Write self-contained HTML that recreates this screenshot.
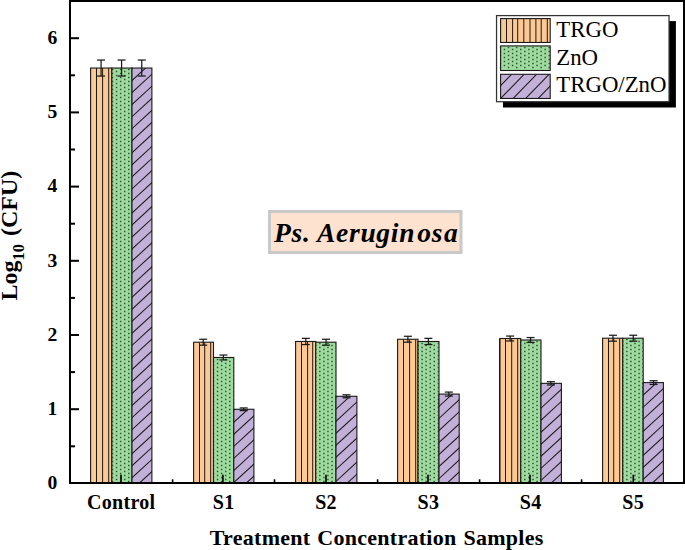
<!DOCTYPE html>
<html><head><meta charset="utf-8"><title>chart</title>
<style>
html,body{margin:0;padding:0;background:#fff;}
body{width:685px;height:550px;position:relative;overflow:hidden;font-family:"Liberation Serif",serif;color:#000;}
.t{position:absolute;white-space:nowrap;line-height:1;}
.b{font-weight:bold;}
.xt{font-size:20px;font-weight:bold;transform:translateX(-50%);top:491.5px;letter-spacing:0.3px;}
.yt{font-size:19.6px;font-weight:bold;width:20px;text-align:right;left:37.4px;}
.lg{font-size:22.8px;left:556.3px;}
</style></head><body>
<svg width="685" height="550" viewBox="0 0 685 550" style="position:absolute;left:0;top:0"><defs><clipPath id="o0"><rect x="90.60" y="68.04" width="21.20" height="414.96"/></clipPath><clipPath id="g0"><rect x="111.00" y="68.04" width="20.70" height="414.96"/></clipPath><clipPath id="p0"><rect x="132.00" y="68.04" width="19.90" height="414.96"/></clipPath><clipPath id="o1"><rect x="193.60" y="342.21" width="19.90" height="140.79"/></clipPath><clipPath id="g1"><rect x="212.70" y="357.47" width="20.80" height="125.53"/></clipPath><clipPath id="p1"><rect x="233.80" y="409.27" width="20.10" height="73.73"/></clipPath><clipPath id="o2"><rect x="295.60" y="341.47" width="20.15" height="141.53"/></clipPath><clipPath id="g2"><rect x="314.95" y="342.21" width="20.75" height="140.79"/></clipPath><clipPath id="p2"><rect x="336.00" y="396.30" width="20.90" height="86.70"/></clipPath><clipPath id="o3"><rect x="397.60" y="339.25" width="20.40" height="143.75"/></clipPath><clipPath id="g3"><rect x="417.20" y="341.47" width="21.50" height="141.53"/></clipPath><clipPath id="p3"><rect x="439.00" y="394.08" width="20.20" height="88.92"/></clipPath><clipPath id="o4"><rect x="500.00" y="338.50" width="20.75" height="144.50"/></clipPath><clipPath id="g4"><rect x="519.95" y="339.99" width="20.75" height="143.01"/></clipPath><clipPath id="p4"><rect x="541.00" y="383.34" width="20.40" height="99.66"/></clipPath><clipPath id="o5"><rect x="602.60" y="338.21" width="20.15" height="144.79"/></clipPath><clipPath id="g5"><rect x="621.95" y="338.21" width="20.95" height="144.79"/></clipPath><clipPath id="p5"><rect x="643.20" y="382.59" width="20.20" height="100.41"/></clipPath></defs><rect x="90.60" y="68.04" width="21.20" height="414.96" fill="#FCC893"/><g clip-path="url(#o0)" stroke="#1a1a1a" stroke-width="1"><line x1="96.50" y1="68.04" x2="96.50" y2="483.00"/><line x1="102.60" y1="68.04" x2="102.60" y2="483.00"/><line x1="108.70" y1="68.04" x2="108.70" y2="483.00"/></g><rect x="90.60" y="68.04" width="21.20" height="414.96" fill="none" stroke="#1a1a1a" stroke-width="1.1"/><rect x="111.80" y="68.04" width="20.20" height="414.96" fill="#9EDB9E"/><g clip-path="url(#g0)" fill="#345634"><path d="M111.75,480.75h1.5v1.5h-1.5zM119.89,480.75h1.5v1.5h-1.5zM128.03,480.75h1.5v1.5h-1.5zM115.82,478.75h1.5v1.5h-1.5zM123.96,478.75h1.5v1.5h-1.5zM132.10,478.75h1.5v1.5h-1.5zM111.75,476.75h1.5v1.5h-1.5zM119.89,476.75h1.5v1.5h-1.5zM128.03,476.75h1.5v1.5h-1.5zM115.82,474.75h1.5v1.5h-1.5zM123.96,474.75h1.5v1.5h-1.5zM132.10,474.75h1.5v1.5h-1.5zM111.75,472.75h1.5v1.5h-1.5zM119.89,472.75h1.5v1.5h-1.5zM128.03,472.75h1.5v1.5h-1.5zM115.82,470.75h1.5v1.5h-1.5zM123.96,470.75h1.5v1.5h-1.5zM132.10,470.75h1.5v1.5h-1.5zM111.75,468.75h1.5v1.5h-1.5zM119.89,468.75h1.5v1.5h-1.5zM128.03,468.75h1.5v1.5h-1.5zM115.82,466.75h1.5v1.5h-1.5zM123.96,466.75h1.5v1.5h-1.5zM132.10,466.75h1.5v1.5h-1.5zM111.75,464.75h1.5v1.5h-1.5zM119.89,464.75h1.5v1.5h-1.5zM128.03,464.75h1.5v1.5h-1.5zM115.82,462.75h1.5v1.5h-1.5zM123.96,462.75h1.5v1.5h-1.5zM132.10,462.75h1.5v1.5h-1.5zM111.75,460.75h1.5v1.5h-1.5zM119.89,460.75h1.5v1.5h-1.5zM128.03,460.75h1.5v1.5h-1.5zM115.82,458.75h1.5v1.5h-1.5zM123.96,458.75h1.5v1.5h-1.5zM132.10,458.75h1.5v1.5h-1.5zM111.75,456.75h1.5v1.5h-1.5zM119.89,456.75h1.5v1.5h-1.5zM128.03,456.75h1.5v1.5h-1.5zM115.82,454.75h1.5v1.5h-1.5zM123.96,454.75h1.5v1.5h-1.5zM132.10,454.75h1.5v1.5h-1.5zM111.75,452.75h1.5v1.5h-1.5zM119.89,452.75h1.5v1.5h-1.5zM128.03,452.75h1.5v1.5h-1.5zM115.82,450.75h1.5v1.5h-1.5zM123.96,450.75h1.5v1.5h-1.5zM132.10,450.75h1.5v1.5h-1.5zM111.75,448.75h1.5v1.5h-1.5zM119.89,448.75h1.5v1.5h-1.5zM128.03,448.75h1.5v1.5h-1.5zM115.82,446.75h1.5v1.5h-1.5zM123.96,446.75h1.5v1.5h-1.5zM132.10,446.75h1.5v1.5h-1.5zM111.75,444.75h1.5v1.5h-1.5zM119.89,444.75h1.5v1.5h-1.5zM128.03,444.75h1.5v1.5h-1.5zM115.82,442.75h1.5v1.5h-1.5zM123.96,442.75h1.5v1.5h-1.5zM132.10,442.75h1.5v1.5h-1.5zM111.75,440.75h1.5v1.5h-1.5zM119.89,440.75h1.5v1.5h-1.5zM128.03,440.75h1.5v1.5h-1.5zM115.82,438.75h1.5v1.5h-1.5zM123.96,438.75h1.5v1.5h-1.5zM132.10,438.75h1.5v1.5h-1.5zM111.75,436.75h1.5v1.5h-1.5zM119.89,436.75h1.5v1.5h-1.5zM128.03,436.75h1.5v1.5h-1.5zM115.82,434.75h1.5v1.5h-1.5zM123.96,434.75h1.5v1.5h-1.5zM132.10,434.75h1.5v1.5h-1.5zM111.75,432.75h1.5v1.5h-1.5zM119.89,432.75h1.5v1.5h-1.5zM128.03,432.75h1.5v1.5h-1.5zM115.82,430.75h1.5v1.5h-1.5zM123.96,430.75h1.5v1.5h-1.5zM132.10,430.75h1.5v1.5h-1.5zM111.75,428.75h1.5v1.5h-1.5zM119.89,428.75h1.5v1.5h-1.5zM128.03,428.75h1.5v1.5h-1.5zM115.82,426.75h1.5v1.5h-1.5zM123.96,426.75h1.5v1.5h-1.5zM132.10,426.75h1.5v1.5h-1.5zM111.75,424.75h1.5v1.5h-1.5zM119.89,424.75h1.5v1.5h-1.5zM128.03,424.75h1.5v1.5h-1.5zM115.82,422.75h1.5v1.5h-1.5zM123.96,422.75h1.5v1.5h-1.5zM132.10,422.75h1.5v1.5h-1.5zM111.75,420.75h1.5v1.5h-1.5zM119.89,420.75h1.5v1.5h-1.5zM128.03,420.75h1.5v1.5h-1.5zM115.82,418.75h1.5v1.5h-1.5zM123.96,418.75h1.5v1.5h-1.5zM132.10,418.75h1.5v1.5h-1.5zM111.75,416.75h1.5v1.5h-1.5zM119.89,416.75h1.5v1.5h-1.5zM128.03,416.75h1.5v1.5h-1.5zM115.82,414.75h1.5v1.5h-1.5zM123.96,414.75h1.5v1.5h-1.5zM132.10,414.75h1.5v1.5h-1.5zM111.75,412.75h1.5v1.5h-1.5zM119.89,412.75h1.5v1.5h-1.5zM128.03,412.75h1.5v1.5h-1.5zM115.82,410.75h1.5v1.5h-1.5zM123.96,410.75h1.5v1.5h-1.5zM132.10,410.75h1.5v1.5h-1.5zM111.75,408.75h1.5v1.5h-1.5zM119.89,408.75h1.5v1.5h-1.5zM128.03,408.75h1.5v1.5h-1.5zM115.82,406.75h1.5v1.5h-1.5zM123.96,406.75h1.5v1.5h-1.5zM132.10,406.75h1.5v1.5h-1.5zM111.75,404.75h1.5v1.5h-1.5zM119.89,404.75h1.5v1.5h-1.5zM128.03,404.75h1.5v1.5h-1.5zM115.82,402.75h1.5v1.5h-1.5zM123.96,402.75h1.5v1.5h-1.5zM132.10,402.75h1.5v1.5h-1.5zM111.75,400.75h1.5v1.5h-1.5zM119.89,400.75h1.5v1.5h-1.5zM128.03,400.75h1.5v1.5h-1.5zM115.82,398.75h1.5v1.5h-1.5zM123.96,398.75h1.5v1.5h-1.5zM132.10,398.75h1.5v1.5h-1.5zM111.75,396.75h1.5v1.5h-1.5zM119.89,396.75h1.5v1.5h-1.5zM128.03,396.75h1.5v1.5h-1.5zM115.82,394.75h1.5v1.5h-1.5zM123.96,394.75h1.5v1.5h-1.5zM132.10,394.75h1.5v1.5h-1.5zM111.75,392.75h1.5v1.5h-1.5zM119.89,392.75h1.5v1.5h-1.5zM128.03,392.75h1.5v1.5h-1.5zM115.82,390.75h1.5v1.5h-1.5zM123.96,390.75h1.5v1.5h-1.5zM132.10,390.75h1.5v1.5h-1.5zM111.75,388.75h1.5v1.5h-1.5zM119.89,388.75h1.5v1.5h-1.5zM128.03,388.75h1.5v1.5h-1.5zM115.82,386.75h1.5v1.5h-1.5zM123.96,386.75h1.5v1.5h-1.5zM132.10,386.75h1.5v1.5h-1.5zM111.75,384.75h1.5v1.5h-1.5zM119.89,384.75h1.5v1.5h-1.5zM128.03,384.75h1.5v1.5h-1.5zM115.82,382.75h1.5v1.5h-1.5zM123.96,382.75h1.5v1.5h-1.5zM132.10,382.75h1.5v1.5h-1.5zM111.75,380.75h1.5v1.5h-1.5zM119.89,380.75h1.5v1.5h-1.5zM128.03,380.75h1.5v1.5h-1.5zM115.82,378.75h1.5v1.5h-1.5zM123.96,378.75h1.5v1.5h-1.5zM132.10,378.75h1.5v1.5h-1.5zM111.75,376.75h1.5v1.5h-1.5zM119.89,376.75h1.5v1.5h-1.5zM128.03,376.75h1.5v1.5h-1.5zM115.82,374.75h1.5v1.5h-1.5zM123.96,374.75h1.5v1.5h-1.5zM132.10,374.75h1.5v1.5h-1.5zM111.75,372.75h1.5v1.5h-1.5zM119.89,372.75h1.5v1.5h-1.5zM128.03,372.75h1.5v1.5h-1.5zM115.82,370.75h1.5v1.5h-1.5zM123.96,370.75h1.5v1.5h-1.5zM132.10,370.75h1.5v1.5h-1.5zM111.75,368.75h1.5v1.5h-1.5zM119.89,368.75h1.5v1.5h-1.5zM128.03,368.75h1.5v1.5h-1.5zM115.82,366.75h1.5v1.5h-1.5zM123.96,366.75h1.5v1.5h-1.5zM132.10,366.75h1.5v1.5h-1.5zM111.75,364.75h1.5v1.5h-1.5zM119.89,364.75h1.5v1.5h-1.5zM128.03,364.75h1.5v1.5h-1.5zM115.82,362.75h1.5v1.5h-1.5zM123.96,362.75h1.5v1.5h-1.5zM132.10,362.75h1.5v1.5h-1.5zM111.75,360.75h1.5v1.5h-1.5zM119.89,360.75h1.5v1.5h-1.5zM128.03,360.75h1.5v1.5h-1.5zM115.82,358.75h1.5v1.5h-1.5zM123.96,358.75h1.5v1.5h-1.5zM132.10,358.75h1.5v1.5h-1.5zM111.75,356.75h1.5v1.5h-1.5zM119.89,356.75h1.5v1.5h-1.5zM128.03,356.75h1.5v1.5h-1.5zM115.82,354.75h1.5v1.5h-1.5zM123.96,354.75h1.5v1.5h-1.5zM132.10,354.75h1.5v1.5h-1.5zM111.75,352.75h1.5v1.5h-1.5zM119.89,352.75h1.5v1.5h-1.5zM128.03,352.75h1.5v1.5h-1.5zM115.82,350.75h1.5v1.5h-1.5zM123.96,350.75h1.5v1.5h-1.5zM132.10,350.75h1.5v1.5h-1.5zM111.75,348.75h1.5v1.5h-1.5zM119.89,348.75h1.5v1.5h-1.5zM128.03,348.75h1.5v1.5h-1.5zM115.82,346.75h1.5v1.5h-1.5zM123.96,346.75h1.5v1.5h-1.5zM132.10,346.75h1.5v1.5h-1.5zM111.75,344.75h1.5v1.5h-1.5zM119.89,344.75h1.5v1.5h-1.5zM128.03,344.75h1.5v1.5h-1.5zM115.82,342.75h1.5v1.5h-1.5zM123.96,342.75h1.5v1.5h-1.5zM132.10,342.75h1.5v1.5h-1.5zM111.75,340.75h1.5v1.5h-1.5zM119.89,340.75h1.5v1.5h-1.5zM128.03,340.75h1.5v1.5h-1.5zM115.82,338.75h1.5v1.5h-1.5zM123.96,338.75h1.5v1.5h-1.5zM132.10,338.75h1.5v1.5h-1.5zM111.75,336.75h1.5v1.5h-1.5zM119.89,336.75h1.5v1.5h-1.5zM128.03,336.75h1.5v1.5h-1.5zM115.82,334.75h1.5v1.5h-1.5zM123.96,334.75h1.5v1.5h-1.5zM132.10,334.75h1.5v1.5h-1.5zM111.75,332.75h1.5v1.5h-1.5zM119.89,332.75h1.5v1.5h-1.5zM128.03,332.75h1.5v1.5h-1.5zM115.82,330.75h1.5v1.5h-1.5zM123.96,330.75h1.5v1.5h-1.5zM132.10,330.75h1.5v1.5h-1.5zM111.75,328.75h1.5v1.5h-1.5zM119.89,328.75h1.5v1.5h-1.5zM128.03,328.75h1.5v1.5h-1.5zM115.82,326.75h1.5v1.5h-1.5zM123.96,326.75h1.5v1.5h-1.5zM132.10,326.75h1.5v1.5h-1.5zM111.75,324.75h1.5v1.5h-1.5zM119.89,324.75h1.5v1.5h-1.5zM128.03,324.75h1.5v1.5h-1.5zM115.82,322.75h1.5v1.5h-1.5zM123.96,322.75h1.5v1.5h-1.5zM132.10,322.75h1.5v1.5h-1.5zM111.75,320.75h1.5v1.5h-1.5zM119.89,320.75h1.5v1.5h-1.5zM128.03,320.75h1.5v1.5h-1.5zM115.82,318.75h1.5v1.5h-1.5zM123.96,318.75h1.5v1.5h-1.5zM132.10,318.75h1.5v1.5h-1.5zM111.75,316.75h1.5v1.5h-1.5zM119.89,316.75h1.5v1.5h-1.5zM128.03,316.75h1.5v1.5h-1.5zM115.82,314.75h1.5v1.5h-1.5zM123.96,314.75h1.5v1.5h-1.5zM132.10,314.75h1.5v1.5h-1.5zM111.75,312.75h1.5v1.5h-1.5zM119.89,312.75h1.5v1.5h-1.5zM128.03,312.75h1.5v1.5h-1.5zM115.82,310.75h1.5v1.5h-1.5zM123.96,310.75h1.5v1.5h-1.5zM132.10,310.75h1.5v1.5h-1.5zM111.75,308.75h1.5v1.5h-1.5zM119.89,308.75h1.5v1.5h-1.5zM128.03,308.75h1.5v1.5h-1.5zM115.82,306.75h1.5v1.5h-1.5zM123.96,306.75h1.5v1.5h-1.5zM132.10,306.75h1.5v1.5h-1.5zM111.75,304.75h1.5v1.5h-1.5zM119.89,304.75h1.5v1.5h-1.5zM128.03,304.75h1.5v1.5h-1.5zM115.82,302.75h1.5v1.5h-1.5zM123.96,302.75h1.5v1.5h-1.5zM132.10,302.75h1.5v1.5h-1.5zM111.75,300.75h1.5v1.5h-1.5zM119.89,300.75h1.5v1.5h-1.5zM128.03,300.75h1.5v1.5h-1.5zM115.82,298.75h1.5v1.5h-1.5zM123.96,298.75h1.5v1.5h-1.5zM132.10,298.75h1.5v1.5h-1.5zM111.75,296.75h1.5v1.5h-1.5zM119.89,296.75h1.5v1.5h-1.5zM128.03,296.75h1.5v1.5h-1.5zM115.82,294.75h1.5v1.5h-1.5zM123.96,294.75h1.5v1.5h-1.5zM132.10,294.75h1.5v1.5h-1.5zM111.75,292.75h1.5v1.5h-1.5zM119.89,292.75h1.5v1.5h-1.5zM128.03,292.75h1.5v1.5h-1.5zM115.82,290.75h1.5v1.5h-1.5zM123.96,290.75h1.5v1.5h-1.5zM132.10,290.75h1.5v1.5h-1.5zM111.75,288.75h1.5v1.5h-1.5zM119.89,288.75h1.5v1.5h-1.5zM128.03,288.75h1.5v1.5h-1.5zM115.82,286.75h1.5v1.5h-1.5zM123.96,286.75h1.5v1.5h-1.5zM132.10,286.75h1.5v1.5h-1.5zM111.75,284.75h1.5v1.5h-1.5zM119.89,284.75h1.5v1.5h-1.5zM128.03,284.75h1.5v1.5h-1.5zM115.82,282.75h1.5v1.5h-1.5zM123.96,282.75h1.5v1.5h-1.5zM132.10,282.75h1.5v1.5h-1.5zM111.75,280.75h1.5v1.5h-1.5zM119.89,280.75h1.5v1.5h-1.5zM128.03,280.75h1.5v1.5h-1.5zM115.82,278.75h1.5v1.5h-1.5zM123.96,278.75h1.5v1.5h-1.5zM132.10,278.75h1.5v1.5h-1.5zM111.75,276.75h1.5v1.5h-1.5zM119.89,276.75h1.5v1.5h-1.5zM128.03,276.75h1.5v1.5h-1.5zM115.82,274.75h1.5v1.5h-1.5zM123.96,274.75h1.5v1.5h-1.5zM132.10,274.75h1.5v1.5h-1.5zM111.75,272.75h1.5v1.5h-1.5zM119.89,272.75h1.5v1.5h-1.5zM128.03,272.75h1.5v1.5h-1.5zM115.82,270.75h1.5v1.5h-1.5zM123.96,270.75h1.5v1.5h-1.5zM132.10,270.75h1.5v1.5h-1.5zM111.75,268.75h1.5v1.5h-1.5zM119.89,268.75h1.5v1.5h-1.5zM128.03,268.75h1.5v1.5h-1.5zM115.82,266.75h1.5v1.5h-1.5zM123.96,266.75h1.5v1.5h-1.5zM132.10,266.75h1.5v1.5h-1.5zM111.75,264.75h1.5v1.5h-1.5zM119.89,264.75h1.5v1.5h-1.5zM128.03,264.75h1.5v1.5h-1.5zM115.82,262.75h1.5v1.5h-1.5zM123.96,262.75h1.5v1.5h-1.5zM132.10,262.75h1.5v1.5h-1.5zM111.75,260.75h1.5v1.5h-1.5zM119.89,260.75h1.5v1.5h-1.5zM128.03,260.75h1.5v1.5h-1.5zM115.82,258.75h1.5v1.5h-1.5zM123.96,258.75h1.5v1.5h-1.5zM132.10,258.75h1.5v1.5h-1.5zM111.75,256.75h1.5v1.5h-1.5zM119.89,256.75h1.5v1.5h-1.5zM128.03,256.75h1.5v1.5h-1.5zM115.82,254.75h1.5v1.5h-1.5zM123.96,254.75h1.5v1.5h-1.5zM132.10,254.75h1.5v1.5h-1.5zM111.75,252.75h1.5v1.5h-1.5zM119.89,252.75h1.5v1.5h-1.5zM128.03,252.75h1.5v1.5h-1.5zM115.82,250.75h1.5v1.5h-1.5zM123.96,250.75h1.5v1.5h-1.5zM132.10,250.75h1.5v1.5h-1.5zM111.75,248.75h1.5v1.5h-1.5zM119.89,248.75h1.5v1.5h-1.5zM128.03,248.75h1.5v1.5h-1.5zM115.82,246.75h1.5v1.5h-1.5zM123.96,246.75h1.5v1.5h-1.5zM132.10,246.75h1.5v1.5h-1.5zM111.75,244.75h1.5v1.5h-1.5zM119.89,244.75h1.5v1.5h-1.5zM128.03,244.75h1.5v1.5h-1.5zM115.82,242.75h1.5v1.5h-1.5zM123.96,242.75h1.5v1.5h-1.5zM132.10,242.75h1.5v1.5h-1.5zM111.75,240.75h1.5v1.5h-1.5zM119.89,240.75h1.5v1.5h-1.5zM128.03,240.75h1.5v1.5h-1.5zM115.82,238.75h1.5v1.5h-1.5zM123.96,238.75h1.5v1.5h-1.5zM132.10,238.75h1.5v1.5h-1.5zM111.75,236.75h1.5v1.5h-1.5zM119.89,236.75h1.5v1.5h-1.5zM128.03,236.75h1.5v1.5h-1.5zM115.82,234.75h1.5v1.5h-1.5zM123.96,234.75h1.5v1.5h-1.5zM132.10,234.75h1.5v1.5h-1.5zM111.75,232.75h1.5v1.5h-1.5zM119.89,232.75h1.5v1.5h-1.5zM128.03,232.75h1.5v1.5h-1.5zM115.82,230.75h1.5v1.5h-1.5zM123.96,230.75h1.5v1.5h-1.5zM132.10,230.75h1.5v1.5h-1.5zM111.75,228.75h1.5v1.5h-1.5zM119.89,228.75h1.5v1.5h-1.5zM128.03,228.75h1.5v1.5h-1.5zM115.82,226.75h1.5v1.5h-1.5zM123.96,226.75h1.5v1.5h-1.5zM132.10,226.75h1.5v1.5h-1.5zM111.75,224.75h1.5v1.5h-1.5zM119.89,224.75h1.5v1.5h-1.5zM128.03,224.75h1.5v1.5h-1.5zM115.82,222.75h1.5v1.5h-1.5zM123.96,222.75h1.5v1.5h-1.5zM132.10,222.75h1.5v1.5h-1.5zM111.75,220.75h1.5v1.5h-1.5zM119.89,220.75h1.5v1.5h-1.5zM128.03,220.75h1.5v1.5h-1.5zM115.82,218.75h1.5v1.5h-1.5zM123.96,218.75h1.5v1.5h-1.5zM132.10,218.75h1.5v1.5h-1.5zM111.75,216.75h1.5v1.5h-1.5zM119.89,216.75h1.5v1.5h-1.5zM128.03,216.75h1.5v1.5h-1.5zM115.82,214.75h1.5v1.5h-1.5zM123.96,214.75h1.5v1.5h-1.5zM132.10,214.75h1.5v1.5h-1.5zM111.75,212.75h1.5v1.5h-1.5zM119.89,212.75h1.5v1.5h-1.5zM128.03,212.75h1.5v1.5h-1.5zM115.82,210.75h1.5v1.5h-1.5zM123.96,210.75h1.5v1.5h-1.5zM132.10,210.75h1.5v1.5h-1.5zM111.75,208.75h1.5v1.5h-1.5zM119.89,208.75h1.5v1.5h-1.5zM128.03,208.75h1.5v1.5h-1.5zM115.82,206.75h1.5v1.5h-1.5zM123.96,206.75h1.5v1.5h-1.5zM132.10,206.75h1.5v1.5h-1.5zM111.75,204.75h1.5v1.5h-1.5zM119.89,204.75h1.5v1.5h-1.5zM128.03,204.75h1.5v1.5h-1.5zM115.82,202.75h1.5v1.5h-1.5zM123.96,202.75h1.5v1.5h-1.5zM132.10,202.75h1.5v1.5h-1.5zM111.75,200.75h1.5v1.5h-1.5zM119.89,200.75h1.5v1.5h-1.5zM128.03,200.75h1.5v1.5h-1.5zM115.82,198.75h1.5v1.5h-1.5zM123.96,198.75h1.5v1.5h-1.5zM132.10,198.75h1.5v1.5h-1.5zM111.75,196.75h1.5v1.5h-1.5zM119.89,196.75h1.5v1.5h-1.5zM128.03,196.75h1.5v1.5h-1.5zM115.82,194.75h1.5v1.5h-1.5zM123.96,194.75h1.5v1.5h-1.5zM132.10,194.75h1.5v1.5h-1.5zM111.75,192.75h1.5v1.5h-1.5zM119.89,192.75h1.5v1.5h-1.5zM128.03,192.75h1.5v1.5h-1.5zM115.82,190.75h1.5v1.5h-1.5zM123.96,190.75h1.5v1.5h-1.5zM132.10,190.75h1.5v1.5h-1.5zM111.75,188.75h1.5v1.5h-1.5zM119.89,188.75h1.5v1.5h-1.5zM128.03,188.75h1.5v1.5h-1.5zM115.82,186.75h1.5v1.5h-1.5zM123.96,186.75h1.5v1.5h-1.5zM132.10,186.75h1.5v1.5h-1.5zM111.75,184.75h1.5v1.5h-1.5zM119.89,184.75h1.5v1.5h-1.5zM128.03,184.75h1.5v1.5h-1.5zM115.82,182.75h1.5v1.5h-1.5zM123.96,182.75h1.5v1.5h-1.5zM132.10,182.75h1.5v1.5h-1.5zM111.75,180.75h1.5v1.5h-1.5zM119.89,180.75h1.5v1.5h-1.5zM128.03,180.75h1.5v1.5h-1.5zM115.82,178.75h1.5v1.5h-1.5zM123.96,178.75h1.5v1.5h-1.5zM132.10,178.75h1.5v1.5h-1.5zM111.75,176.75h1.5v1.5h-1.5zM119.89,176.75h1.5v1.5h-1.5zM128.03,176.75h1.5v1.5h-1.5zM115.82,174.75h1.5v1.5h-1.5zM123.96,174.75h1.5v1.5h-1.5zM132.10,174.75h1.5v1.5h-1.5zM111.75,172.75h1.5v1.5h-1.5zM119.89,172.75h1.5v1.5h-1.5zM128.03,172.75h1.5v1.5h-1.5zM115.82,170.75h1.5v1.5h-1.5zM123.96,170.75h1.5v1.5h-1.5zM132.10,170.75h1.5v1.5h-1.5zM111.75,168.75h1.5v1.5h-1.5zM119.89,168.75h1.5v1.5h-1.5zM128.03,168.75h1.5v1.5h-1.5zM115.82,166.75h1.5v1.5h-1.5zM123.96,166.75h1.5v1.5h-1.5zM132.10,166.75h1.5v1.5h-1.5zM111.75,164.75h1.5v1.5h-1.5zM119.89,164.75h1.5v1.5h-1.5zM128.03,164.75h1.5v1.5h-1.5zM115.82,162.75h1.5v1.5h-1.5zM123.96,162.75h1.5v1.5h-1.5zM132.10,162.75h1.5v1.5h-1.5zM111.75,160.75h1.5v1.5h-1.5zM119.89,160.75h1.5v1.5h-1.5zM128.03,160.75h1.5v1.5h-1.5zM115.82,158.75h1.5v1.5h-1.5zM123.96,158.75h1.5v1.5h-1.5zM132.10,158.75h1.5v1.5h-1.5zM111.75,156.75h1.5v1.5h-1.5zM119.89,156.75h1.5v1.5h-1.5zM128.03,156.75h1.5v1.5h-1.5zM115.82,154.75h1.5v1.5h-1.5zM123.96,154.75h1.5v1.5h-1.5zM132.10,154.75h1.5v1.5h-1.5zM111.75,152.75h1.5v1.5h-1.5zM119.89,152.75h1.5v1.5h-1.5zM128.03,152.75h1.5v1.5h-1.5zM115.82,150.75h1.5v1.5h-1.5zM123.96,150.75h1.5v1.5h-1.5zM132.10,150.75h1.5v1.5h-1.5zM111.75,148.75h1.5v1.5h-1.5zM119.89,148.75h1.5v1.5h-1.5zM128.03,148.75h1.5v1.5h-1.5zM115.82,146.75h1.5v1.5h-1.5zM123.96,146.75h1.5v1.5h-1.5zM132.10,146.75h1.5v1.5h-1.5zM111.75,144.75h1.5v1.5h-1.5zM119.89,144.75h1.5v1.5h-1.5zM128.03,144.75h1.5v1.5h-1.5zM115.82,142.75h1.5v1.5h-1.5zM123.96,142.75h1.5v1.5h-1.5zM132.10,142.75h1.5v1.5h-1.5zM111.75,140.75h1.5v1.5h-1.5zM119.89,140.75h1.5v1.5h-1.5zM128.03,140.75h1.5v1.5h-1.5zM115.82,138.75h1.5v1.5h-1.5zM123.96,138.75h1.5v1.5h-1.5zM132.10,138.75h1.5v1.5h-1.5zM111.75,136.75h1.5v1.5h-1.5zM119.89,136.75h1.5v1.5h-1.5zM128.03,136.75h1.5v1.5h-1.5zM115.82,134.75h1.5v1.5h-1.5zM123.96,134.75h1.5v1.5h-1.5zM132.10,134.75h1.5v1.5h-1.5zM111.75,132.75h1.5v1.5h-1.5zM119.89,132.75h1.5v1.5h-1.5zM128.03,132.75h1.5v1.5h-1.5zM115.82,130.75h1.5v1.5h-1.5zM123.96,130.75h1.5v1.5h-1.5zM132.10,130.75h1.5v1.5h-1.5zM111.75,128.75h1.5v1.5h-1.5zM119.89,128.75h1.5v1.5h-1.5zM128.03,128.75h1.5v1.5h-1.5zM115.82,126.75h1.5v1.5h-1.5zM123.96,126.75h1.5v1.5h-1.5zM132.10,126.75h1.5v1.5h-1.5zM111.75,124.75h1.5v1.5h-1.5zM119.89,124.75h1.5v1.5h-1.5zM128.03,124.75h1.5v1.5h-1.5zM115.82,122.75h1.5v1.5h-1.5zM123.96,122.75h1.5v1.5h-1.5zM132.10,122.75h1.5v1.5h-1.5zM111.75,120.75h1.5v1.5h-1.5zM119.89,120.75h1.5v1.5h-1.5zM128.03,120.75h1.5v1.5h-1.5zM115.82,118.75h1.5v1.5h-1.5zM123.96,118.75h1.5v1.5h-1.5zM132.10,118.75h1.5v1.5h-1.5zM111.75,116.75h1.5v1.5h-1.5zM119.89,116.75h1.5v1.5h-1.5zM128.03,116.75h1.5v1.5h-1.5zM115.82,114.75h1.5v1.5h-1.5zM123.96,114.75h1.5v1.5h-1.5zM132.10,114.75h1.5v1.5h-1.5zM111.75,112.75h1.5v1.5h-1.5zM119.89,112.75h1.5v1.5h-1.5zM128.03,112.75h1.5v1.5h-1.5zM115.82,110.75h1.5v1.5h-1.5zM123.96,110.75h1.5v1.5h-1.5zM132.10,110.75h1.5v1.5h-1.5zM111.75,108.75h1.5v1.5h-1.5zM119.89,108.75h1.5v1.5h-1.5zM128.03,108.75h1.5v1.5h-1.5zM115.82,106.75h1.5v1.5h-1.5zM123.96,106.75h1.5v1.5h-1.5zM132.10,106.75h1.5v1.5h-1.5zM111.75,104.75h1.5v1.5h-1.5zM119.89,104.75h1.5v1.5h-1.5zM128.03,104.75h1.5v1.5h-1.5zM115.82,102.75h1.5v1.5h-1.5zM123.96,102.75h1.5v1.5h-1.5zM132.10,102.75h1.5v1.5h-1.5zM111.75,100.75h1.5v1.5h-1.5zM119.89,100.75h1.5v1.5h-1.5zM128.03,100.75h1.5v1.5h-1.5zM115.82,98.75h1.5v1.5h-1.5zM123.96,98.75h1.5v1.5h-1.5zM132.10,98.75h1.5v1.5h-1.5zM111.75,96.75h1.5v1.5h-1.5zM119.89,96.75h1.5v1.5h-1.5zM128.03,96.75h1.5v1.5h-1.5zM115.82,94.75h1.5v1.5h-1.5zM123.96,94.75h1.5v1.5h-1.5zM132.10,94.75h1.5v1.5h-1.5zM111.75,92.75h1.5v1.5h-1.5zM119.89,92.75h1.5v1.5h-1.5zM128.03,92.75h1.5v1.5h-1.5zM115.82,90.75h1.5v1.5h-1.5zM123.96,90.75h1.5v1.5h-1.5zM132.10,90.75h1.5v1.5h-1.5zM111.75,88.75h1.5v1.5h-1.5zM119.89,88.75h1.5v1.5h-1.5zM128.03,88.75h1.5v1.5h-1.5zM115.82,86.75h1.5v1.5h-1.5zM123.96,86.75h1.5v1.5h-1.5zM132.10,86.75h1.5v1.5h-1.5zM111.75,84.75h1.5v1.5h-1.5zM119.89,84.75h1.5v1.5h-1.5zM128.03,84.75h1.5v1.5h-1.5zM115.82,82.75h1.5v1.5h-1.5zM123.96,82.75h1.5v1.5h-1.5zM132.10,82.75h1.5v1.5h-1.5zM111.75,80.75h1.5v1.5h-1.5zM119.89,80.75h1.5v1.5h-1.5zM128.03,80.75h1.5v1.5h-1.5zM115.82,78.75h1.5v1.5h-1.5zM123.96,78.75h1.5v1.5h-1.5zM132.10,78.75h1.5v1.5h-1.5zM111.75,76.75h1.5v1.5h-1.5zM119.89,76.75h1.5v1.5h-1.5zM128.03,76.75h1.5v1.5h-1.5zM115.82,74.75h1.5v1.5h-1.5zM123.96,74.75h1.5v1.5h-1.5zM132.10,74.75h1.5v1.5h-1.5zM111.75,72.75h1.5v1.5h-1.5zM119.89,72.75h1.5v1.5h-1.5zM128.03,72.75h1.5v1.5h-1.5zM115.82,70.75h1.5v1.5h-1.5zM123.96,70.75h1.5v1.5h-1.5zM132.10,70.75h1.5v1.5h-1.5zM111.75,68.75h1.5v1.5h-1.5zM119.89,68.75h1.5v1.5h-1.5zM128.03,68.75h1.5v1.5h-1.5zM115.82,66.75h1.5v1.5h-1.5zM123.96,66.75h1.5v1.5h-1.5zM132.10,66.75h1.5v1.5h-1.5z"/></g><rect x="111.80" y="68.04" width="20.20" height="414.96" fill="none" stroke="#1a1a1a" stroke-width="1.1"/><rect x="132.00" y="68.04" width="19.90" height="414.96" fill="#C2B0D9"/><g clip-path="url(#p0)" stroke="#1a1a1a" stroke-width="1.05"><line x1="127.00" y1="518.52" x2="156.90" y2="491.01"/><line x1="127.00" y1="506.48" x2="156.90" y2="478.97"/><line x1="127.00" y1="494.44" x2="156.90" y2="466.93"/><line x1="127.00" y1="482.40" x2="156.90" y2="454.89"/><line x1="127.00" y1="470.36" x2="156.90" y2="442.85"/><line x1="127.00" y1="458.32" x2="156.90" y2="430.81"/><line x1="127.00" y1="446.28" x2="156.90" y2="418.77"/><line x1="127.00" y1="434.24" x2="156.90" y2="406.73"/><line x1="127.00" y1="422.20" x2="156.90" y2="394.69"/><line x1="127.00" y1="410.16" x2="156.90" y2="382.65"/><line x1="127.00" y1="398.12" x2="156.90" y2="370.61"/><line x1="127.00" y1="386.08" x2="156.90" y2="358.57"/><line x1="127.00" y1="374.04" x2="156.90" y2="346.53"/><line x1="127.00" y1="362.00" x2="156.90" y2="334.49"/><line x1="127.00" y1="349.96" x2="156.90" y2="322.45"/><line x1="127.00" y1="337.92" x2="156.90" y2="310.41"/><line x1="127.00" y1="325.88" x2="156.90" y2="298.37"/><line x1="127.00" y1="313.84" x2="156.90" y2="286.33"/><line x1="127.00" y1="301.80" x2="156.90" y2="274.29"/><line x1="127.00" y1="289.76" x2="156.90" y2="262.25"/><line x1="127.00" y1="277.72" x2="156.90" y2="250.21"/><line x1="127.00" y1="265.68" x2="156.90" y2="238.17"/><line x1="127.00" y1="253.64" x2="156.90" y2="226.13"/><line x1="127.00" y1="241.60" x2="156.90" y2="214.09"/><line x1="127.00" y1="229.56" x2="156.90" y2="202.05"/><line x1="127.00" y1="217.52" x2="156.90" y2="190.01"/><line x1="127.00" y1="205.48" x2="156.90" y2="177.97"/><line x1="127.00" y1="193.44" x2="156.90" y2="165.93"/><line x1="127.00" y1="181.40" x2="156.90" y2="153.89"/><line x1="127.00" y1="169.36" x2="156.90" y2="141.85"/><line x1="127.00" y1="157.32" x2="156.90" y2="129.81"/><line x1="127.00" y1="145.28" x2="156.90" y2="117.77"/><line x1="127.00" y1="133.24" x2="156.90" y2="105.73"/><line x1="127.00" y1="121.20" x2="156.90" y2="93.69"/><line x1="127.00" y1="109.16" x2="156.90" y2="81.65"/><line x1="127.00" y1="97.12" x2="156.90" y2="69.61"/><line x1="127.00" y1="85.08" x2="156.90" y2="57.57"/><line x1="127.00" y1="73.04" x2="156.90" y2="45.53"/></g><rect x="132.00" y="68.04" width="19.90" height="414.96" fill="none" stroke="#1a1a1a" stroke-width="1.1"/><g stroke="#1a1a1a" stroke-width="1.25" fill="none"><line x1="101.07" y1="60.04" x2="101.07" y2="76.04"/><line x1="97.07" y1="60.04" x2="105.07" y2="60.04"/><line x1="97.07" y1="76.04" x2="105.07" y2="76.04"/></g><g stroke="#1a1a1a" stroke-width="1.25" fill="none"><line x1="121.58" y1="60.04" x2="121.58" y2="76.04"/><line x1="117.58" y1="60.04" x2="125.58" y2="60.04"/><line x1="117.58" y1="76.04" x2="125.58" y2="76.04"/></g><g stroke="#1a1a1a" stroke-width="1.25" fill="none"><line x1="141.75" y1="60.04" x2="141.75" y2="76.04"/><line x1="137.75" y1="60.04" x2="145.75" y2="60.04"/><line x1="137.75" y1="76.04" x2="145.75" y2="76.04"/></g><rect x="193.60" y="342.21" width="19.90" height="140.79" fill="#FCC893"/><g clip-path="url(#o1)" stroke="#1a1a1a" stroke-width="1"><line x1="199.50" y1="342.21" x2="199.50" y2="483.00"/><line x1="204.70" y1="342.21" x2="204.70" y2="483.00"/><line x1="210.70" y1="342.21" x2="210.70" y2="483.00"/></g><rect x="193.60" y="342.21" width="19.90" height="140.79" fill="none" stroke="#1a1a1a" stroke-width="1.1"/><rect x="213.50" y="357.47" width="20.30" height="125.53" fill="#9EDB9E"/><g clip-path="url(#g1)" fill="#345634"><path d="M212.75,480.75h1.5v1.5h-1.5zM220.89,480.75h1.5v1.5h-1.5zM229.03,480.75h1.5v1.5h-1.5zM216.82,478.75h1.5v1.5h-1.5zM224.96,478.75h1.5v1.5h-1.5zM233.10,478.75h1.5v1.5h-1.5zM212.75,476.75h1.5v1.5h-1.5zM220.89,476.75h1.5v1.5h-1.5zM229.03,476.75h1.5v1.5h-1.5zM216.82,474.75h1.5v1.5h-1.5zM224.96,474.75h1.5v1.5h-1.5zM233.10,474.75h1.5v1.5h-1.5zM212.75,472.75h1.5v1.5h-1.5zM220.89,472.75h1.5v1.5h-1.5zM229.03,472.75h1.5v1.5h-1.5zM216.82,470.75h1.5v1.5h-1.5zM224.96,470.75h1.5v1.5h-1.5zM233.10,470.75h1.5v1.5h-1.5zM212.75,468.75h1.5v1.5h-1.5zM220.89,468.75h1.5v1.5h-1.5zM229.03,468.75h1.5v1.5h-1.5zM216.82,466.75h1.5v1.5h-1.5zM224.96,466.75h1.5v1.5h-1.5zM233.10,466.75h1.5v1.5h-1.5zM212.75,464.75h1.5v1.5h-1.5zM220.89,464.75h1.5v1.5h-1.5zM229.03,464.75h1.5v1.5h-1.5zM216.82,462.75h1.5v1.5h-1.5zM224.96,462.75h1.5v1.5h-1.5zM233.10,462.75h1.5v1.5h-1.5zM212.75,460.75h1.5v1.5h-1.5zM220.89,460.75h1.5v1.5h-1.5zM229.03,460.75h1.5v1.5h-1.5zM216.82,458.75h1.5v1.5h-1.5zM224.96,458.75h1.5v1.5h-1.5zM233.10,458.75h1.5v1.5h-1.5zM212.75,456.75h1.5v1.5h-1.5zM220.89,456.75h1.5v1.5h-1.5zM229.03,456.75h1.5v1.5h-1.5zM216.82,454.75h1.5v1.5h-1.5zM224.96,454.75h1.5v1.5h-1.5zM233.10,454.75h1.5v1.5h-1.5zM212.75,452.75h1.5v1.5h-1.5zM220.89,452.75h1.5v1.5h-1.5zM229.03,452.75h1.5v1.5h-1.5zM216.82,450.75h1.5v1.5h-1.5zM224.96,450.75h1.5v1.5h-1.5zM233.10,450.75h1.5v1.5h-1.5zM212.75,448.75h1.5v1.5h-1.5zM220.89,448.75h1.5v1.5h-1.5zM229.03,448.75h1.5v1.5h-1.5zM216.82,446.75h1.5v1.5h-1.5zM224.96,446.75h1.5v1.5h-1.5zM233.10,446.75h1.5v1.5h-1.5zM212.75,444.75h1.5v1.5h-1.5zM220.89,444.75h1.5v1.5h-1.5zM229.03,444.75h1.5v1.5h-1.5zM216.82,442.75h1.5v1.5h-1.5zM224.96,442.75h1.5v1.5h-1.5zM233.10,442.75h1.5v1.5h-1.5zM212.75,440.75h1.5v1.5h-1.5zM220.89,440.75h1.5v1.5h-1.5zM229.03,440.75h1.5v1.5h-1.5zM216.82,438.75h1.5v1.5h-1.5zM224.96,438.75h1.5v1.5h-1.5zM233.10,438.75h1.5v1.5h-1.5zM212.75,436.75h1.5v1.5h-1.5zM220.89,436.75h1.5v1.5h-1.5zM229.03,436.75h1.5v1.5h-1.5zM216.82,434.75h1.5v1.5h-1.5zM224.96,434.75h1.5v1.5h-1.5zM233.10,434.75h1.5v1.5h-1.5zM212.75,432.75h1.5v1.5h-1.5zM220.89,432.75h1.5v1.5h-1.5zM229.03,432.75h1.5v1.5h-1.5zM216.82,430.75h1.5v1.5h-1.5zM224.96,430.75h1.5v1.5h-1.5zM233.10,430.75h1.5v1.5h-1.5zM212.75,428.75h1.5v1.5h-1.5zM220.89,428.75h1.5v1.5h-1.5zM229.03,428.75h1.5v1.5h-1.5zM216.82,426.75h1.5v1.5h-1.5zM224.96,426.75h1.5v1.5h-1.5zM233.10,426.75h1.5v1.5h-1.5zM212.75,424.75h1.5v1.5h-1.5zM220.89,424.75h1.5v1.5h-1.5zM229.03,424.75h1.5v1.5h-1.5zM216.82,422.75h1.5v1.5h-1.5zM224.96,422.75h1.5v1.5h-1.5zM233.10,422.75h1.5v1.5h-1.5zM212.75,420.75h1.5v1.5h-1.5zM220.89,420.75h1.5v1.5h-1.5zM229.03,420.75h1.5v1.5h-1.5zM216.82,418.75h1.5v1.5h-1.5zM224.96,418.75h1.5v1.5h-1.5zM233.10,418.75h1.5v1.5h-1.5zM212.75,416.75h1.5v1.5h-1.5zM220.89,416.75h1.5v1.5h-1.5zM229.03,416.75h1.5v1.5h-1.5zM216.82,414.75h1.5v1.5h-1.5zM224.96,414.75h1.5v1.5h-1.5zM233.10,414.75h1.5v1.5h-1.5zM212.75,412.75h1.5v1.5h-1.5zM220.89,412.75h1.5v1.5h-1.5zM229.03,412.75h1.5v1.5h-1.5zM216.82,410.75h1.5v1.5h-1.5zM224.96,410.75h1.5v1.5h-1.5zM233.10,410.75h1.5v1.5h-1.5zM212.75,408.75h1.5v1.5h-1.5zM220.89,408.75h1.5v1.5h-1.5zM229.03,408.75h1.5v1.5h-1.5zM216.82,406.75h1.5v1.5h-1.5zM224.96,406.75h1.5v1.5h-1.5zM233.10,406.75h1.5v1.5h-1.5zM212.75,404.75h1.5v1.5h-1.5zM220.89,404.75h1.5v1.5h-1.5zM229.03,404.75h1.5v1.5h-1.5zM216.82,402.75h1.5v1.5h-1.5zM224.96,402.75h1.5v1.5h-1.5zM233.10,402.75h1.5v1.5h-1.5zM212.75,400.75h1.5v1.5h-1.5zM220.89,400.75h1.5v1.5h-1.5zM229.03,400.75h1.5v1.5h-1.5zM216.82,398.75h1.5v1.5h-1.5zM224.96,398.75h1.5v1.5h-1.5zM233.10,398.75h1.5v1.5h-1.5zM212.75,396.75h1.5v1.5h-1.5zM220.89,396.75h1.5v1.5h-1.5zM229.03,396.75h1.5v1.5h-1.5zM216.82,394.75h1.5v1.5h-1.5zM224.96,394.75h1.5v1.5h-1.5zM233.10,394.75h1.5v1.5h-1.5zM212.75,392.75h1.5v1.5h-1.5zM220.89,392.75h1.5v1.5h-1.5zM229.03,392.75h1.5v1.5h-1.5zM216.82,390.75h1.5v1.5h-1.5zM224.96,390.75h1.5v1.5h-1.5zM233.10,390.75h1.5v1.5h-1.5zM212.75,388.75h1.5v1.5h-1.5zM220.89,388.75h1.5v1.5h-1.5zM229.03,388.75h1.5v1.5h-1.5zM216.82,386.75h1.5v1.5h-1.5zM224.96,386.75h1.5v1.5h-1.5zM233.10,386.75h1.5v1.5h-1.5zM212.75,384.75h1.5v1.5h-1.5zM220.89,384.75h1.5v1.5h-1.5zM229.03,384.75h1.5v1.5h-1.5zM216.82,382.75h1.5v1.5h-1.5zM224.96,382.75h1.5v1.5h-1.5zM233.10,382.75h1.5v1.5h-1.5zM212.75,380.75h1.5v1.5h-1.5zM220.89,380.75h1.5v1.5h-1.5zM229.03,380.75h1.5v1.5h-1.5zM216.82,378.75h1.5v1.5h-1.5zM224.96,378.75h1.5v1.5h-1.5zM233.10,378.75h1.5v1.5h-1.5zM212.75,376.75h1.5v1.5h-1.5zM220.89,376.75h1.5v1.5h-1.5zM229.03,376.75h1.5v1.5h-1.5zM216.82,374.75h1.5v1.5h-1.5zM224.96,374.75h1.5v1.5h-1.5zM233.10,374.75h1.5v1.5h-1.5zM212.75,372.75h1.5v1.5h-1.5zM220.89,372.75h1.5v1.5h-1.5zM229.03,372.75h1.5v1.5h-1.5zM216.82,370.75h1.5v1.5h-1.5zM224.96,370.75h1.5v1.5h-1.5zM233.10,370.75h1.5v1.5h-1.5zM212.75,368.75h1.5v1.5h-1.5zM220.89,368.75h1.5v1.5h-1.5zM229.03,368.75h1.5v1.5h-1.5zM216.82,366.75h1.5v1.5h-1.5zM224.96,366.75h1.5v1.5h-1.5zM233.10,366.75h1.5v1.5h-1.5zM212.75,364.75h1.5v1.5h-1.5zM220.89,364.75h1.5v1.5h-1.5zM229.03,364.75h1.5v1.5h-1.5zM216.82,362.75h1.5v1.5h-1.5zM224.96,362.75h1.5v1.5h-1.5zM233.10,362.75h1.5v1.5h-1.5zM212.75,360.75h1.5v1.5h-1.5zM220.89,360.75h1.5v1.5h-1.5zM229.03,360.75h1.5v1.5h-1.5zM216.82,358.75h1.5v1.5h-1.5zM224.96,358.75h1.5v1.5h-1.5zM233.10,358.75h1.5v1.5h-1.5zM212.75,356.75h1.5v1.5h-1.5zM220.89,356.75h1.5v1.5h-1.5zM229.03,356.75h1.5v1.5h-1.5z"/></g><rect x="213.50" y="357.47" width="20.30" height="125.53" fill="none" stroke="#1a1a1a" stroke-width="1.1"/><rect x="233.80" y="409.27" width="20.10" height="73.73" fill="#C2B0D9"/><g clip-path="url(#p1)" stroke="#1a1a1a" stroke-width="1.05"><line x1="228.80" y1="523.22" x2="258.90" y2="495.53"/><line x1="228.80" y1="511.18" x2="258.90" y2="483.49"/><line x1="228.80" y1="499.14" x2="258.90" y2="471.45"/><line x1="228.80" y1="487.10" x2="258.90" y2="459.41"/><line x1="228.80" y1="475.06" x2="258.90" y2="447.37"/><line x1="228.80" y1="463.02" x2="258.90" y2="435.33"/><line x1="228.80" y1="450.98" x2="258.90" y2="423.29"/><line x1="228.80" y1="438.94" x2="258.90" y2="411.25"/><line x1="228.80" y1="426.90" x2="258.90" y2="399.21"/><line x1="228.80" y1="414.86" x2="258.90" y2="387.17"/></g><rect x="233.80" y="409.27" width="20.10" height="73.73" fill="none" stroke="#1a1a1a" stroke-width="1.1"/><g stroke="#1a1a1a" stroke-width="1.25" fill="none"><line x1="203.20" y1="339.25" x2="203.20" y2="345.17"/><line x1="199.20" y1="339.25" x2="207.20" y2="339.25"/><line x1="199.20" y1="345.17" x2="207.20" y2="345.17"/></g><g stroke="#1a1a1a" stroke-width="1.25" fill="none"><line x1="223.40" y1="355.03" x2="223.40" y2="359.92"/><line x1="219.40" y1="355.03" x2="227.40" y2="355.03"/><line x1="219.40" y1="359.92" x2="227.40" y2="359.92"/></g><g stroke="#1a1a1a" stroke-width="1.25" fill="none"><line x1="243.65" y1="407.94" x2="243.65" y2="410.60"/><line x1="239.65" y1="407.94" x2="247.65" y2="407.94"/><line x1="239.65" y1="410.60" x2="247.65" y2="410.60"/></g><rect x="295.60" y="341.47" width="20.15" height="141.53" fill="#FCC893"/><g clip-path="url(#o2)" stroke="#1a1a1a" stroke-width="1"><line x1="301.50" y1="341.47" x2="301.50" y2="483.00"/><line x1="307.60" y1="341.47" x2="307.60" y2="483.00"/><line x1="312.70" y1="341.47" x2="312.70" y2="483.00"/></g><rect x="295.60" y="341.47" width="20.15" height="141.53" fill="none" stroke="#1a1a1a" stroke-width="1.1"/><rect x="315.75" y="342.21" width="20.25" height="140.79" fill="#9EDB9E"/><g clip-path="url(#g2)" fill="#345634"><path d="M315.00,480.75h1.5v1.5h-1.5zM323.14,480.75h1.5v1.5h-1.5zM331.28,480.75h1.5v1.5h-1.5zM319.07,478.75h1.5v1.5h-1.5zM327.21,478.75h1.5v1.5h-1.5zM335.35,478.75h1.5v1.5h-1.5zM315.00,476.75h1.5v1.5h-1.5zM323.14,476.75h1.5v1.5h-1.5zM331.28,476.75h1.5v1.5h-1.5zM319.07,474.75h1.5v1.5h-1.5zM327.21,474.75h1.5v1.5h-1.5zM335.35,474.75h1.5v1.5h-1.5zM315.00,472.75h1.5v1.5h-1.5zM323.14,472.75h1.5v1.5h-1.5zM331.28,472.75h1.5v1.5h-1.5zM319.07,470.75h1.5v1.5h-1.5zM327.21,470.75h1.5v1.5h-1.5zM335.35,470.75h1.5v1.5h-1.5zM315.00,468.75h1.5v1.5h-1.5zM323.14,468.75h1.5v1.5h-1.5zM331.28,468.75h1.5v1.5h-1.5zM319.07,466.75h1.5v1.5h-1.5zM327.21,466.75h1.5v1.5h-1.5zM335.35,466.75h1.5v1.5h-1.5zM315.00,464.75h1.5v1.5h-1.5zM323.14,464.75h1.5v1.5h-1.5zM331.28,464.75h1.5v1.5h-1.5zM319.07,462.75h1.5v1.5h-1.5zM327.21,462.75h1.5v1.5h-1.5zM335.35,462.75h1.5v1.5h-1.5zM315.00,460.75h1.5v1.5h-1.5zM323.14,460.75h1.5v1.5h-1.5zM331.28,460.75h1.5v1.5h-1.5zM319.07,458.75h1.5v1.5h-1.5zM327.21,458.75h1.5v1.5h-1.5zM335.35,458.75h1.5v1.5h-1.5zM315.00,456.75h1.5v1.5h-1.5zM323.14,456.75h1.5v1.5h-1.5zM331.28,456.75h1.5v1.5h-1.5zM319.07,454.75h1.5v1.5h-1.5zM327.21,454.75h1.5v1.5h-1.5zM335.35,454.75h1.5v1.5h-1.5zM315.00,452.75h1.5v1.5h-1.5zM323.14,452.75h1.5v1.5h-1.5zM331.28,452.75h1.5v1.5h-1.5zM319.07,450.75h1.5v1.5h-1.5zM327.21,450.75h1.5v1.5h-1.5zM335.35,450.75h1.5v1.5h-1.5zM315.00,448.75h1.5v1.5h-1.5zM323.14,448.75h1.5v1.5h-1.5zM331.28,448.75h1.5v1.5h-1.5zM319.07,446.75h1.5v1.5h-1.5zM327.21,446.75h1.5v1.5h-1.5zM335.35,446.75h1.5v1.5h-1.5zM315.00,444.75h1.5v1.5h-1.5zM323.14,444.75h1.5v1.5h-1.5zM331.28,444.75h1.5v1.5h-1.5zM319.07,442.75h1.5v1.5h-1.5zM327.21,442.75h1.5v1.5h-1.5zM335.35,442.75h1.5v1.5h-1.5zM315.00,440.75h1.5v1.5h-1.5zM323.14,440.75h1.5v1.5h-1.5zM331.28,440.75h1.5v1.5h-1.5zM319.07,438.75h1.5v1.5h-1.5zM327.21,438.75h1.5v1.5h-1.5zM335.35,438.75h1.5v1.5h-1.5zM315.00,436.75h1.5v1.5h-1.5zM323.14,436.75h1.5v1.5h-1.5zM331.28,436.75h1.5v1.5h-1.5zM319.07,434.75h1.5v1.5h-1.5zM327.21,434.75h1.5v1.5h-1.5zM335.35,434.75h1.5v1.5h-1.5zM315.00,432.75h1.5v1.5h-1.5zM323.14,432.75h1.5v1.5h-1.5zM331.28,432.75h1.5v1.5h-1.5zM319.07,430.75h1.5v1.5h-1.5zM327.21,430.75h1.5v1.5h-1.5zM335.35,430.75h1.5v1.5h-1.5zM315.00,428.75h1.5v1.5h-1.5zM323.14,428.75h1.5v1.5h-1.5zM331.28,428.75h1.5v1.5h-1.5zM319.07,426.75h1.5v1.5h-1.5zM327.21,426.75h1.5v1.5h-1.5zM335.35,426.75h1.5v1.5h-1.5zM315.00,424.75h1.5v1.5h-1.5zM323.14,424.75h1.5v1.5h-1.5zM331.28,424.75h1.5v1.5h-1.5zM319.07,422.75h1.5v1.5h-1.5zM327.21,422.75h1.5v1.5h-1.5zM335.35,422.75h1.5v1.5h-1.5zM315.00,420.75h1.5v1.5h-1.5zM323.14,420.75h1.5v1.5h-1.5zM331.28,420.75h1.5v1.5h-1.5zM319.07,418.75h1.5v1.5h-1.5zM327.21,418.75h1.5v1.5h-1.5zM335.35,418.75h1.5v1.5h-1.5zM315.00,416.75h1.5v1.5h-1.5zM323.14,416.75h1.5v1.5h-1.5zM331.28,416.75h1.5v1.5h-1.5zM319.07,414.75h1.5v1.5h-1.5zM327.21,414.75h1.5v1.5h-1.5zM335.35,414.75h1.5v1.5h-1.5zM315.00,412.75h1.5v1.5h-1.5zM323.14,412.75h1.5v1.5h-1.5zM331.28,412.75h1.5v1.5h-1.5zM319.07,410.75h1.5v1.5h-1.5zM327.21,410.75h1.5v1.5h-1.5zM335.35,410.75h1.5v1.5h-1.5zM315.00,408.75h1.5v1.5h-1.5zM323.14,408.75h1.5v1.5h-1.5zM331.28,408.75h1.5v1.5h-1.5zM319.07,406.75h1.5v1.5h-1.5zM327.21,406.75h1.5v1.5h-1.5zM335.35,406.75h1.5v1.5h-1.5zM315.00,404.75h1.5v1.5h-1.5zM323.14,404.75h1.5v1.5h-1.5zM331.28,404.75h1.5v1.5h-1.5zM319.07,402.75h1.5v1.5h-1.5zM327.21,402.75h1.5v1.5h-1.5zM335.35,402.75h1.5v1.5h-1.5zM315.00,400.75h1.5v1.5h-1.5zM323.14,400.75h1.5v1.5h-1.5zM331.28,400.75h1.5v1.5h-1.5zM319.07,398.75h1.5v1.5h-1.5zM327.21,398.75h1.5v1.5h-1.5zM335.35,398.75h1.5v1.5h-1.5zM315.00,396.75h1.5v1.5h-1.5zM323.14,396.75h1.5v1.5h-1.5zM331.28,396.75h1.5v1.5h-1.5zM319.07,394.75h1.5v1.5h-1.5zM327.21,394.75h1.5v1.5h-1.5zM335.35,394.75h1.5v1.5h-1.5zM315.00,392.75h1.5v1.5h-1.5zM323.14,392.75h1.5v1.5h-1.5zM331.28,392.75h1.5v1.5h-1.5zM319.07,390.75h1.5v1.5h-1.5zM327.21,390.75h1.5v1.5h-1.5zM335.35,390.75h1.5v1.5h-1.5zM315.00,388.75h1.5v1.5h-1.5zM323.14,388.75h1.5v1.5h-1.5zM331.28,388.75h1.5v1.5h-1.5zM319.07,386.75h1.5v1.5h-1.5zM327.21,386.75h1.5v1.5h-1.5zM335.35,386.75h1.5v1.5h-1.5zM315.00,384.75h1.5v1.5h-1.5zM323.14,384.75h1.5v1.5h-1.5zM331.28,384.75h1.5v1.5h-1.5zM319.07,382.75h1.5v1.5h-1.5zM327.21,382.75h1.5v1.5h-1.5zM335.35,382.75h1.5v1.5h-1.5zM315.00,380.75h1.5v1.5h-1.5zM323.14,380.75h1.5v1.5h-1.5zM331.28,380.75h1.5v1.5h-1.5zM319.07,378.75h1.5v1.5h-1.5zM327.21,378.75h1.5v1.5h-1.5zM335.35,378.75h1.5v1.5h-1.5zM315.00,376.75h1.5v1.5h-1.5zM323.14,376.75h1.5v1.5h-1.5zM331.28,376.75h1.5v1.5h-1.5zM319.07,374.75h1.5v1.5h-1.5zM327.21,374.75h1.5v1.5h-1.5zM335.35,374.75h1.5v1.5h-1.5zM315.00,372.75h1.5v1.5h-1.5zM323.14,372.75h1.5v1.5h-1.5zM331.28,372.75h1.5v1.5h-1.5zM319.07,370.75h1.5v1.5h-1.5zM327.21,370.75h1.5v1.5h-1.5zM335.35,370.75h1.5v1.5h-1.5zM315.00,368.75h1.5v1.5h-1.5zM323.14,368.75h1.5v1.5h-1.5zM331.28,368.75h1.5v1.5h-1.5zM319.07,366.75h1.5v1.5h-1.5zM327.21,366.75h1.5v1.5h-1.5zM335.35,366.75h1.5v1.5h-1.5zM315.00,364.75h1.5v1.5h-1.5zM323.14,364.75h1.5v1.5h-1.5zM331.28,364.75h1.5v1.5h-1.5zM319.07,362.75h1.5v1.5h-1.5zM327.21,362.75h1.5v1.5h-1.5zM335.35,362.75h1.5v1.5h-1.5zM315.00,360.75h1.5v1.5h-1.5zM323.14,360.75h1.5v1.5h-1.5zM331.28,360.75h1.5v1.5h-1.5zM319.07,358.75h1.5v1.5h-1.5zM327.21,358.75h1.5v1.5h-1.5zM335.35,358.75h1.5v1.5h-1.5zM315.00,356.75h1.5v1.5h-1.5zM323.14,356.75h1.5v1.5h-1.5zM331.28,356.75h1.5v1.5h-1.5zM319.07,354.75h1.5v1.5h-1.5zM327.21,354.75h1.5v1.5h-1.5zM335.35,354.75h1.5v1.5h-1.5zM315.00,352.75h1.5v1.5h-1.5zM323.14,352.75h1.5v1.5h-1.5zM331.28,352.75h1.5v1.5h-1.5zM319.07,350.75h1.5v1.5h-1.5zM327.21,350.75h1.5v1.5h-1.5zM335.35,350.75h1.5v1.5h-1.5zM315.00,348.75h1.5v1.5h-1.5zM323.14,348.75h1.5v1.5h-1.5zM331.28,348.75h1.5v1.5h-1.5zM319.07,346.75h1.5v1.5h-1.5zM327.21,346.75h1.5v1.5h-1.5zM335.35,346.75h1.5v1.5h-1.5zM315.00,344.75h1.5v1.5h-1.5zM323.14,344.75h1.5v1.5h-1.5zM331.28,344.75h1.5v1.5h-1.5zM319.07,342.75h1.5v1.5h-1.5zM327.21,342.75h1.5v1.5h-1.5zM335.35,342.75h1.5v1.5h-1.5zM315.00,340.75h1.5v1.5h-1.5zM323.14,340.75h1.5v1.5h-1.5zM331.28,340.75h1.5v1.5h-1.5z"/></g><rect x="315.75" y="342.21" width="20.25" height="140.79" fill="none" stroke="#1a1a1a" stroke-width="1.1"/><rect x="336.00" y="396.30" width="20.90" height="86.70" fill="#C2B0D9"/><g clip-path="url(#p2)" stroke="#1a1a1a" stroke-width="1.05"><line x1="331.00" y1="522.12" x2="361.90" y2="493.69"/><line x1="331.00" y1="510.08" x2="361.90" y2="481.65"/><line x1="331.00" y1="498.04" x2="361.90" y2="469.61"/><line x1="331.00" y1="486.00" x2="361.90" y2="457.57"/><line x1="331.00" y1="473.96" x2="361.90" y2="445.53"/><line x1="331.00" y1="461.92" x2="361.90" y2="433.49"/><line x1="331.00" y1="449.88" x2="361.90" y2="421.45"/><line x1="331.00" y1="437.84" x2="361.90" y2="409.41"/><line x1="331.00" y1="425.80" x2="361.90" y2="397.37"/><line x1="331.00" y1="413.76" x2="361.90" y2="385.33"/><line x1="331.00" y1="401.72" x2="361.90" y2="373.29"/></g><rect x="336.00" y="396.30" width="20.90" height="86.70" fill="none" stroke="#1a1a1a" stroke-width="1.1"/><g stroke="#1a1a1a" stroke-width="1.25" fill="none"><line x1="305.81" y1="338.36" x2="305.81" y2="344.58"/><line x1="301.81" y1="338.36" x2="309.81" y2="338.36"/><line x1="301.81" y1="344.58" x2="309.81" y2="344.58"/></g><g stroke="#1a1a1a" stroke-width="1.25" fill="none"><line x1="326.06" y1="339.25" x2="326.06" y2="345.17"/><line x1="322.06" y1="339.25" x2="330.06" y2="339.25"/><line x1="322.06" y1="345.17" x2="330.06" y2="345.17"/></g><g stroke="#1a1a1a" stroke-width="1.25" fill="none"><line x1="346.50" y1="394.82" x2="346.50" y2="397.79"/><line x1="342.50" y1="394.82" x2="350.50" y2="394.82"/><line x1="342.50" y1="397.79" x2="350.50" y2="397.79"/></g><rect x="397.60" y="339.25" width="20.40" height="143.75" fill="#FCC893"/><g clip-path="url(#o3)" stroke="#1a1a1a" stroke-width="1"><line x1="403.50" y1="339.25" x2="403.50" y2="483.00"/><line x1="409.60" y1="339.25" x2="409.60" y2="483.00"/><line x1="415.70" y1="339.25" x2="415.70" y2="483.00"/></g><rect x="397.60" y="339.25" width="20.40" height="143.75" fill="none" stroke="#1a1a1a" stroke-width="1.1"/><rect x="418.00" y="341.47" width="21.00" height="141.53" fill="#9EDB9E"/><g clip-path="url(#g3)" fill="#345634"><path d="M417.25,480.75h1.5v1.5h-1.5zM425.39,480.75h1.5v1.5h-1.5zM433.53,480.75h1.5v1.5h-1.5zM421.32,478.75h1.5v1.5h-1.5zM429.46,478.75h1.5v1.5h-1.5zM437.60,478.75h1.5v1.5h-1.5zM417.25,476.75h1.5v1.5h-1.5zM425.39,476.75h1.5v1.5h-1.5zM433.53,476.75h1.5v1.5h-1.5zM421.32,474.75h1.5v1.5h-1.5zM429.46,474.75h1.5v1.5h-1.5zM437.60,474.75h1.5v1.5h-1.5zM417.25,472.75h1.5v1.5h-1.5zM425.39,472.75h1.5v1.5h-1.5zM433.53,472.75h1.5v1.5h-1.5zM421.32,470.75h1.5v1.5h-1.5zM429.46,470.75h1.5v1.5h-1.5zM437.60,470.75h1.5v1.5h-1.5zM417.25,468.75h1.5v1.5h-1.5zM425.39,468.75h1.5v1.5h-1.5zM433.53,468.75h1.5v1.5h-1.5zM421.32,466.75h1.5v1.5h-1.5zM429.46,466.75h1.5v1.5h-1.5zM437.60,466.75h1.5v1.5h-1.5zM417.25,464.75h1.5v1.5h-1.5zM425.39,464.75h1.5v1.5h-1.5zM433.53,464.75h1.5v1.5h-1.5zM421.32,462.75h1.5v1.5h-1.5zM429.46,462.75h1.5v1.5h-1.5zM437.60,462.75h1.5v1.5h-1.5zM417.25,460.75h1.5v1.5h-1.5zM425.39,460.75h1.5v1.5h-1.5zM433.53,460.75h1.5v1.5h-1.5zM421.32,458.75h1.5v1.5h-1.5zM429.46,458.75h1.5v1.5h-1.5zM437.60,458.75h1.5v1.5h-1.5zM417.25,456.75h1.5v1.5h-1.5zM425.39,456.75h1.5v1.5h-1.5zM433.53,456.75h1.5v1.5h-1.5zM421.32,454.75h1.5v1.5h-1.5zM429.46,454.75h1.5v1.5h-1.5zM437.60,454.75h1.5v1.5h-1.5zM417.25,452.75h1.5v1.5h-1.5zM425.39,452.75h1.5v1.5h-1.5zM433.53,452.75h1.5v1.5h-1.5zM421.32,450.75h1.5v1.5h-1.5zM429.46,450.75h1.5v1.5h-1.5zM437.60,450.75h1.5v1.5h-1.5zM417.25,448.75h1.5v1.5h-1.5zM425.39,448.75h1.5v1.5h-1.5zM433.53,448.75h1.5v1.5h-1.5zM421.32,446.75h1.5v1.5h-1.5zM429.46,446.75h1.5v1.5h-1.5zM437.60,446.75h1.5v1.5h-1.5zM417.25,444.75h1.5v1.5h-1.5zM425.39,444.75h1.5v1.5h-1.5zM433.53,444.75h1.5v1.5h-1.5zM421.32,442.75h1.5v1.5h-1.5zM429.46,442.75h1.5v1.5h-1.5zM437.60,442.75h1.5v1.5h-1.5zM417.25,440.75h1.5v1.5h-1.5zM425.39,440.75h1.5v1.5h-1.5zM433.53,440.75h1.5v1.5h-1.5zM421.32,438.75h1.5v1.5h-1.5zM429.46,438.75h1.5v1.5h-1.5zM437.60,438.75h1.5v1.5h-1.5zM417.25,436.75h1.5v1.5h-1.5zM425.39,436.75h1.5v1.5h-1.5zM433.53,436.75h1.5v1.5h-1.5zM421.32,434.75h1.5v1.5h-1.5zM429.46,434.75h1.5v1.5h-1.5zM437.60,434.75h1.5v1.5h-1.5zM417.25,432.75h1.5v1.5h-1.5zM425.39,432.75h1.5v1.5h-1.5zM433.53,432.75h1.5v1.5h-1.5zM421.32,430.75h1.5v1.5h-1.5zM429.46,430.75h1.5v1.5h-1.5zM437.60,430.75h1.5v1.5h-1.5zM417.25,428.75h1.5v1.5h-1.5zM425.39,428.75h1.5v1.5h-1.5zM433.53,428.75h1.5v1.5h-1.5zM421.32,426.75h1.5v1.5h-1.5zM429.46,426.75h1.5v1.5h-1.5zM437.60,426.75h1.5v1.5h-1.5zM417.25,424.75h1.5v1.5h-1.5zM425.39,424.75h1.5v1.5h-1.5zM433.53,424.75h1.5v1.5h-1.5zM421.32,422.75h1.5v1.5h-1.5zM429.46,422.75h1.5v1.5h-1.5zM437.60,422.75h1.5v1.5h-1.5zM417.25,420.75h1.5v1.5h-1.5zM425.39,420.75h1.5v1.5h-1.5zM433.53,420.75h1.5v1.5h-1.5zM421.32,418.75h1.5v1.5h-1.5zM429.46,418.75h1.5v1.5h-1.5zM437.60,418.75h1.5v1.5h-1.5zM417.25,416.75h1.5v1.5h-1.5zM425.39,416.75h1.5v1.5h-1.5zM433.53,416.75h1.5v1.5h-1.5zM421.32,414.75h1.5v1.5h-1.5zM429.46,414.75h1.5v1.5h-1.5zM437.60,414.75h1.5v1.5h-1.5zM417.25,412.75h1.5v1.5h-1.5zM425.39,412.75h1.5v1.5h-1.5zM433.53,412.75h1.5v1.5h-1.5zM421.32,410.75h1.5v1.5h-1.5zM429.46,410.75h1.5v1.5h-1.5zM437.60,410.75h1.5v1.5h-1.5zM417.25,408.75h1.5v1.5h-1.5zM425.39,408.75h1.5v1.5h-1.5zM433.53,408.75h1.5v1.5h-1.5zM421.32,406.75h1.5v1.5h-1.5zM429.46,406.75h1.5v1.5h-1.5zM437.60,406.75h1.5v1.5h-1.5zM417.25,404.75h1.5v1.5h-1.5zM425.39,404.75h1.5v1.5h-1.5zM433.53,404.75h1.5v1.5h-1.5zM421.32,402.75h1.5v1.5h-1.5zM429.46,402.75h1.5v1.5h-1.5zM437.60,402.75h1.5v1.5h-1.5zM417.25,400.75h1.5v1.5h-1.5zM425.39,400.75h1.5v1.5h-1.5zM433.53,400.75h1.5v1.5h-1.5zM421.32,398.75h1.5v1.5h-1.5zM429.46,398.75h1.5v1.5h-1.5zM437.60,398.75h1.5v1.5h-1.5zM417.25,396.75h1.5v1.5h-1.5zM425.39,396.75h1.5v1.5h-1.5zM433.53,396.75h1.5v1.5h-1.5zM421.32,394.75h1.5v1.5h-1.5zM429.46,394.75h1.5v1.5h-1.5zM437.60,394.75h1.5v1.5h-1.5zM417.25,392.75h1.5v1.5h-1.5zM425.39,392.75h1.5v1.5h-1.5zM433.53,392.75h1.5v1.5h-1.5zM421.32,390.75h1.5v1.5h-1.5zM429.46,390.75h1.5v1.5h-1.5zM437.60,390.75h1.5v1.5h-1.5zM417.25,388.75h1.5v1.5h-1.5zM425.39,388.75h1.5v1.5h-1.5zM433.53,388.75h1.5v1.5h-1.5zM421.32,386.75h1.5v1.5h-1.5zM429.46,386.75h1.5v1.5h-1.5zM437.60,386.75h1.5v1.5h-1.5zM417.25,384.75h1.5v1.5h-1.5zM425.39,384.75h1.5v1.5h-1.5zM433.53,384.75h1.5v1.5h-1.5zM421.32,382.75h1.5v1.5h-1.5zM429.46,382.75h1.5v1.5h-1.5zM437.60,382.75h1.5v1.5h-1.5zM417.25,380.75h1.5v1.5h-1.5zM425.39,380.75h1.5v1.5h-1.5zM433.53,380.75h1.5v1.5h-1.5zM421.32,378.75h1.5v1.5h-1.5zM429.46,378.75h1.5v1.5h-1.5zM437.60,378.75h1.5v1.5h-1.5zM417.25,376.75h1.5v1.5h-1.5zM425.39,376.75h1.5v1.5h-1.5zM433.53,376.75h1.5v1.5h-1.5zM421.32,374.75h1.5v1.5h-1.5zM429.46,374.75h1.5v1.5h-1.5zM437.60,374.75h1.5v1.5h-1.5zM417.25,372.75h1.5v1.5h-1.5zM425.39,372.75h1.5v1.5h-1.5zM433.53,372.75h1.5v1.5h-1.5zM421.32,370.75h1.5v1.5h-1.5zM429.46,370.75h1.5v1.5h-1.5zM437.60,370.75h1.5v1.5h-1.5zM417.25,368.75h1.5v1.5h-1.5zM425.39,368.75h1.5v1.5h-1.5zM433.53,368.75h1.5v1.5h-1.5zM421.32,366.75h1.5v1.5h-1.5zM429.46,366.75h1.5v1.5h-1.5zM437.60,366.75h1.5v1.5h-1.5zM417.25,364.75h1.5v1.5h-1.5zM425.39,364.75h1.5v1.5h-1.5zM433.53,364.75h1.5v1.5h-1.5zM421.32,362.75h1.5v1.5h-1.5zM429.46,362.75h1.5v1.5h-1.5zM437.60,362.75h1.5v1.5h-1.5zM417.25,360.75h1.5v1.5h-1.5zM425.39,360.75h1.5v1.5h-1.5zM433.53,360.75h1.5v1.5h-1.5zM421.32,358.75h1.5v1.5h-1.5zM429.46,358.75h1.5v1.5h-1.5zM437.60,358.75h1.5v1.5h-1.5zM417.25,356.75h1.5v1.5h-1.5zM425.39,356.75h1.5v1.5h-1.5zM433.53,356.75h1.5v1.5h-1.5zM421.32,354.75h1.5v1.5h-1.5zM429.46,354.75h1.5v1.5h-1.5zM437.60,354.75h1.5v1.5h-1.5zM417.25,352.75h1.5v1.5h-1.5zM425.39,352.75h1.5v1.5h-1.5zM433.53,352.75h1.5v1.5h-1.5zM421.32,350.75h1.5v1.5h-1.5zM429.46,350.75h1.5v1.5h-1.5zM437.60,350.75h1.5v1.5h-1.5zM417.25,348.75h1.5v1.5h-1.5zM425.39,348.75h1.5v1.5h-1.5zM433.53,348.75h1.5v1.5h-1.5zM421.32,346.75h1.5v1.5h-1.5zM429.46,346.75h1.5v1.5h-1.5zM437.60,346.75h1.5v1.5h-1.5zM417.25,344.75h1.5v1.5h-1.5zM425.39,344.75h1.5v1.5h-1.5zM433.53,344.75h1.5v1.5h-1.5zM421.32,342.75h1.5v1.5h-1.5zM429.46,342.75h1.5v1.5h-1.5zM437.60,342.75h1.5v1.5h-1.5zM417.25,340.75h1.5v1.5h-1.5zM425.39,340.75h1.5v1.5h-1.5zM433.53,340.75h1.5v1.5h-1.5z"/></g><rect x="418.00" y="341.47" width="21.00" height="141.53" fill="none" stroke="#1a1a1a" stroke-width="1.1"/><rect x="439.00" y="394.08" width="20.20" height="88.92" fill="#C2B0D9"/><g clip-path="url(#p3)" stroke="#1a1a1a" stroke-width="1.05"><line x1="434.00" y1="519.32" x2="464.20" y2="491.54"/><line x1="434.00" y1="507.28" x2="464.20" y2="479.50"/><line x1="434.00" y1="495.24" x2="464.20" y2="467.46"/><line x1="434.00" y1="483.20" x2="464.20" y2="455.42"/><line x1="434.00" y1="471.16" x2="464.20" y2="443.38"/><line x1="434.00" y1="459.12" x2="464.20" y2="431.34"/><line x1="434.00" y1="447.08" x2="464.20" y2="419.30"/><line x1="434.00" y1="435.04" x2="464.20" y2="407.26"/><line x1="434.00" y1="423.00" x2="464.20" y2="395.22"/><line x1="434.00" y1="410.96" x2="464.20" y2="383.18"/><line x1="434.00" y1="398.92" x2="464.20" y2="371.14"/></g><rect x="439.00" y="394.08" width="20.20" height="88.92" fill="none" stroke="#1a1a1a" stroke-width="1.1"/><g stroke="#1a1a1a" stroke-width="1.25" fill="none"><line x1="407.88" y1="336.28" x2="407.88" y2="342.21"/><line x1="403.88" y1="336.28" x2="411.88" y2="336.28"/><line x1="403.88" y1="342.21" x2="411.88" y2="342.21"/></g><g stroke="#1a1a1a" stroke-width="1.25" fill="none"><line x1="428.38" y1="338.36" x2="428.38" y2="344.58"/><line x1="424.38" y1="338.36" x2="432.38" y2="338.36"/><line x1="424.38" y1="344.58" x2="432.38" y2="344.58"/></g><g stroke="#1a1a1a" stroke-width="1.25" fill="none"><line x1="448.83" y1="392.08" x2="448.83" y2="396.08"/><line x1="444.83" y1="392.08" x2="452.83" y2="392.08"/><line x1="444.83" y1="396.08" x2="452.83" y2="396.08"/></g><rect x="500.00" y="338.50" width="20.75" height="144.50" fill="#FCC893"/><g clip-path="url(#o4)" stroke="#1a1a1a" stroke-width="1"><line x1="505.50" y1="338.50" x2="505.50" y2="483.00"/><line x1="511.70" y1="338.50" x2="511.70" y2="483.00"/><line x1="517.70" y1="338.50" x2="517.70" y2="483.00"/></g><rect x="500.00" y="338.50" width="20.75" height="144.50" fill="none" stroke="#1a1a1a" stroke-width="1.1"/><rect x="520.75" y="339.99" width="20.25" height="143.01" fill="#9EDB9E"/><g clip-path="url(#g4)" fill="#345634"><path d="M520.00,480.75h1.5v1.5h-1.5zM528.14,480.75h1.5v1.5h-1.5zM536.28,480.75h1.5v1.5h-1.5zM524.07,478.75h1.5v1.5h-1.5zM532.21,478.75h1.5v1.5h-1.5zM540.35,478.75h1.5v1.5h-1.5zM520.00,476.75h1.5v1.5h-1.5zM528.14,476.75h1.5v1.5h-1.5zM536.28,476.75h1.5v1.5h-1.5zM524.07,474.75h1.5v1.5h-1.5zM532.21,474.75h1.5v1.5h-1.5zM540.35,474.75h1.5v1.5h-1.5zM520.00,472.75h1.5v1.5h-1.5zM528.14,472.75h1.5v1.5h-1.5zM536.28,472.75h1.5v1.5h-1.5zM524.07,470.75h1.5v1.5h-1.5zM532.21,470.75h1.5v1.5h-1.5zM540.35,470.75h1.5v1.5h-1.5zM520.00,468.75h1.5v1.5h-1.5zM528.14,468.75h1.5v1.5h-1.5zM536.28,468.75h1.5v1.5h-1.5zM524.07,466.75h1.5v1.5h-1.5zM532.21,466.75h1.5v1.5h-1.5zM540.35,466.75h1.5v1.5h-1.5zM520.00,464.75h1.5v1.5h-1.5zM528.14,464.75h1.5v1.5h-1.5zM536.28,464.75h1.5v1.5h-1.5zM524.07,462.75h1.5v1.5h-1.5zM532.21,462.75h1.5v1.5h-1.5zM540.35,462.75h1.5v1.5h-1.5zM520.00,460.75h1.5v1.5h-1.5zM528.14,460.75h1.5v1.5h-1.5zM536.28,460.75h1.5v1.5h-1.5zM524.07,458.75h1.5v1.5h-1.5zM532.21,458.75h1.5v1.5h-1.5zM540.35,458.75h1.5v1.5h-1.5zM520.00,456.75h1.5v1.5h-1.5zM528.14,456.75h1.5v1.5h-1.5zM536.28,456.75h1.5v1.5h-1.5zM524.07,454.75h1.5v1.5h-1.5zM532.21,454.75h1.5v1.5h-1.5zM540.35,454.75h1.5v1.5h-1.5zM520.00,452.75h1.5v1.5h-1.5zM528.14,452.75h1.5v1.5h-1.5zM536.28,452.75h1.5v1.5h-1.5zM524.07,450.75h1.5v1.5h-1.5zM532.21,450.75h1.5v1.5h-1.5zM540.35,450.75h1.5v1.5h-1.5zM520.00,448.75h1.5v1.5h-1.5zM528.14,448.75h1.5v1.5h-1.5zM536.28,448.75h1.5v1.5h-1.5zM524.07,446.75h1.5v1.5h-1.5zM532.21,446.75h1.5v1.5h-1.5zM540.35,446.75h1.5v1.5h-1.5zM520.00,444.75h1.5v1.5h-1.5zM528.14,444.75h1.5v1.5h-1.5zM536.28,444.75h1.5v1.5h-1.5zM524.07,442.75h1.5v1.5h-1.5zM532.21,442.75h1.5v1.5h-1.5zM540.35,442.75h1.5v1.5h-1.5zM520.00,440.75h1.5v1.5h-1.5zM528.14,440.75h1.5v1.5h-1.5zM536.28,440.75h1.5v1.5h-1.5zM524.07,438.75h1.5v1.5h-1.5zM532.21,438.75h1.5v1.5h-1.5zM540.35,438.75h1.5v1.5h-1.5zM520.00,436.75h1.5v1.5h-1.5zM528.14,436.75h1.5v1.5h-1.5zM536.28,436.75h1.5v1.5h-1.5zM524.07,434.75h1.5v1.5h-1.5zM532.21,434.75h1.5v1.5h-1.5zM540.35,434.75h1.5v1.5h-1.5zM520.00,432.75h1.5v1.5h-1.5zM528.14,432.75h1.5v1.5h-1.5zM536.28,432.75h1.5v1.5h-1.5zM524.07,430.75h1.5v1.5h-1.5zM532.21,430.75h1.5v1.5h-1.5zM540.35,430.75h1.5v1.5h-1.5zM520.00,428.75h1.5v1.5h-1.5zM528.14,428.75h1.5v1.5h-1.5zM536.28,428.75h1.5v1.5h-1.5zM524.07,426.75h1.5v1.5h-1.5zM532.21,426.75h1.5v1.5h-1.5zM540.35,426.75h1.5v1.5h-1.5zM520.00,424.75h1.5v1.5h-1.5zM528.14,424.75h1.5v1.5h-1.5zM536.28,424.75h1.5v1.5h-1.5zM524.07,422.75h1.5v1.5h-1.5zM532.21,422.75h1.5v1.5h-1.5zM540.35,422.75h1.5v1.5h-1.5zM520.00,420.75h1.5v1.5h-1.5zM528.14,420.75h1.5v1.5h-1.5zM536.28,420.75h1.5v1.5h-1.5zM524.07,418.75h1.5v1.5h-1.5zM532.21,418.75h1.5v1.5h-1.5zM540.35,418.75h1.5v1.5h-1.5zM520.00,416.75h1.5v1.5h-1.5zM528.14,416.75h1.5v1.5h-1.5zM536.28,416.75h1.5v1.5h-1.5zM524.07,414.75h1.5v1.5h-1.5zM532.21,414.75h1.5v1.5h-1.5zM540.35,414.75h1.5v1.5h-1.5zM520.00,412.75h1.5v1.5h-1.5zM528.14,412.75h1.5v1.5h-1.5zM536.28,412.75h1.5v1.5h-1.5zM524.07,410.75h1.5v1.5h-1.5zM532.21,410.75h1.5v1.5h-1.5zM540.35,410.75h1.5v1.5h-1.5zM520.00,408.75h1.5v1.5h-1.5zM528.14,408.75h1.5v1.5h-1.5zM536.28,408.75h1.5v1.5h-1.5zM524.07,406.75h1.5v1.5h-1.5zM532.21,406.75h1.5v1.5h-1.5zM540.35,406.75h1.5v1.5h-1.5zM520.00,404.75h1.5v1.5h-1.5zM528.14,404.75h1.5v1.5h-1.5zM536.28,404.75h1.5v1.5h-1.5zM524.07,402.75h1.5v1.5h-1.5zM532.21,402.75h1.5v1.5h-1.5zM540.35,402.75h1.5v1.5h-1.5zM520.00,400.75h1.5v1.5h-1.5zM528.14,400.75h1.5v1.5h-1.5zM536.28,400.75h1.5v1.5h-1.5zM524.07,398.75h1.5v1.5h-1.5zM532.21,398.75h1.5v1.5h-1.5zM540.35,398.75h1.5v1.5h-1.5zM520.00,396.75h1.5v1.5h-1.5zM528.14,396.75h1.5v1.5h-1.5zM536.28,396.75h1.5v1.5h-1.5zM524.07,394.75h1.5v1.5h-1.5zM532.21,394.75h1.5v1.5h-1.5zM540.35,394.75h1.5v1.5h-1.5zM520.00,392.75h1.5v1.5h-1.5zM528.14,392.75h1.5v1.5h-1.5zM536.28,392.75h1.5v1.5h-1.5zM524.07,390.75h1.5v1.5h-1.5zM532.21,390.75h1.5v1.5h-1.5zM540.35,390.75h1.5v1.5h-1.5zM520.00,388.75h1.5v1.5h-1.5zM528.14,388.75h1.5v1.5h-1.5zM536.28,388.75h1.5v1.5h-1.5zM524.07,386.75h1.5v1.5h-1.5zM532.21,386.75h1.5v1.5h-1.5zM540.35,386.75h1.5v1.5h-1.5zM520.00,384.75h1.5v1.5h-1.5zM528.14,384.75h1.5v1.5h-1.5zM536.28,384.75h1.5v1.5h-1.5zM524.07,382.75h1.5v1.5h-1.5zM532.21,382.75h1.5v1.5h-1.5zM540.35,382.75h1.5v1.5h-1.5zM520.00,380.75h1.5v1.5h-1.5zM528.14,380.75h1.5v1.5h-1.5zM536.28,380.75h1.5v1.5h-1.5zM524.07,378.75h1.5v1.5h-1.5zM532.21,378.75h1.5v1.5h-1.5zM540.35,378.75h1.5v1.5h-1.5zM520.00,376.75h1.5v1.5h-1.5zM528.14,376.75h1.5v1.5h-1.5zM536.28,376.75h1.5v1.5h-1.5zM524.07,374.75h1.5v1.5h-1.5zM532.21,374.75h1.5v1.5h-1.5zM540.35,374.75h1.5v1.5h-1.5zM520.00,372.75h1.5v1.5h-1.5zM528.14,372.75h1.5v1.5h-1.5zM536.28,372.75h1.5v1.5h-1.5zM524.07,370.75h1.5v1.5h-1.5zM532.21,370.75h1.5v1.5h-1.5zM540.35,370.75h1.5v1.5h-1.5zM520.00,368.75h1.5v1.5h-1.5zM528.14,368.75h1.5v1.5h-1.5zM536.28,368.75h1.5v1.5h-1.5zM524.07,366.75h1.5v1.5h-1.5zM532.21,366.75h1.5v1.5h-1.5zM540.35,366.75h1.5v1.5h-1.5zM520.00,364.75h1.5v1.5h-1.5zM528.14,364.75h1.5v1.5h-1.5zM536.28,364.75h1.5v1.5h-1.5zM524.07,362.75h1.5v1.5h-1.5zM532.21,362.75h1.5v1.5h-1.5zM540.35,362.75h1.5v1.5h-1.5zM520.00,360.75h1.5v1.5h-1.5zM528.14,360.75h1.5v1.5h-1.5zM536.28,360.75h1.5v1.5h-1.5zM524.07,358.75h1.5v1.5h-1.5zM532.21,358.75h1.5v1.5h-1.5zM540.35,358.75h1.5v1.5h-1.5zM520.00,356.75h1.5v1.5h-1.5zM528.14,356.75h1.5v1.5h-1.5zM536.28,356.75h1.5v1.5h-1.5zM524.07,354.75h1.5v1.5h-1.5zM532.21,354.75h1.5v1.5h-1.5zM540.35,354.75h1.5v1.5h-1.5zM520.00,352.75h1.5v1.5h-1.5zM528.14,352.75h1.5v1.5h-1.5zM536.28,352.75h1.5v1.5h-1.5zM524.07,350.75h1.5v1.5h-1.5zM532.21,350.75h1.5v1.5h-1.5zM540.35,350.75h1.5v1.5h-1.5zM520.00,348.75h1.5v1.5h-1.5zM528.14,348.75h1.5v1.5h-1.5zM536.28,348.75h1.5v1.5h-1.5zM524.07,346.75h1.5v1.5h-1.5zM532.21,346.75h1.5v1.5h-1.5zM540.35,346.75h1.5v1.5h-1.5zM520.00,344.75h1.5v1.5h-1.5zM528.14,344.75h1.5v1.5h-1.5zM536.28,344.75h1.5v1.5h-1.5zM524.07,342.75h1.5v1.5h-1.5zM532.21,342.75h1.5v1.5h-1.5zM540.35,342.75h1.5v1.5h-1.5zM520.00,340.75h1.5v1.5h-1.5zM528.14,340.75h1.5v1.5h-1.5zM536.28,340.75h1.5v1.5h-1.5zM524.07,338.75h1.5v1.5h-1.5zM532.21,338.75h1.5v1.5h-1.5zM540.35,338.75h1.5v1.5h-1.5z"/></g><rect x="520.75" y="339.99" width="20.25" height="143.01" fill="none" stroke="#1a1a1a" stroke-width="1.1"/><line x1="499.5" y1="338.50" x2="499.5" y2="483" stroke="#1a1a1a" stroke-width="1"/><rect x="541.00" y="383.34" width="20.40" height="99.66" fill="#C2B0D9"/><g clip-path="url(#p4)" stroke="#1a1a1a" stroke-width="1.05"><line x1="536.00" y1="521.12" x2="566.40" y2="493.15"/><line x1="536.00" y1="509.08" x2="566.40" y2="481.11"/><line x1="536.00" y1="497.04" x2="566.40" y2="469.07"/><line x1="536.00" y1="485.00" x2="566.40" y2="457.03"/><line x1="536.00" y1="472.96" x2="566.40" y2="444.99"/><line x1="536.00" y1="460.92" x2="566.40" y2="432.95"/><line x1="536.00" y1="448.88" x2="566.40" y2="420.91"/><line x1="536.00" y1="436.84" x2="566.40" y2="408.87"/><line x1="536.00" y1="424.80" x2="566.40" y2="396.83"/><line x1="536.00" y1="412.76" x2="566.40" y2="384.79"/><line x1="536.00" y1="400.72" x2="566.40" y2="372.75"/><line x1="536.00" y1="388.68" x2="566.40" y2="360.71"/></g><rect x="541.00" y="383.34" width="20.40" height="99.66" fill="none" stroke="#1a1a1a" stroke-width="1.1"/><g stroke="#1a1a1a" stroke-width="1.25" fill="none"><line x1="510.16" y1="336.06" x2="510.16" y2="340.95"/><line x1="506.16" y1="336.06" x2="514.16" y2="336.06"/><line x1="506.16" y1="340.95" x2="514.16" y2="340.95"/></g><g stroke="#1a1a1a" stroke-width="1.25" fill="none"><line x1="530.56" y1="337.54" x2="530.56" y2="342.43"/><line x1="526.56" y1="337.54" x2="534.56" y2="337.54"/><line x1="526.56" y1="342.43" x2="534.56" y2="342.43"/></g><g stroke="#1a1a1a" stroke-width="1.25" fill="none"><line x1="550.88" y1="381.71" x2="550.88" y2="384.97"/><line x1="546.88" y1="381.71" x2="554.88" y2="381.71"/><line x1="546.88" y1="384.97" x2="554.88" y2="384.97"/></g><rect x="602.60" y="338.21" width="20.15" height="144.79" fill="#FCC893"/><g clip-path="url(#o5)" stroke="#1a1a1a" stroke-width="1"><line x1="608.50" y1="338.21" x2="608.50" y2="483.00"/><line x1="613.70" y1="338.21" x2="613.70" y2="483.00"/><line x1="619.70" y1="338.21" x2="619.70" y2="483.00"/></g><rect x="602.60" y="338.21" width="20.15" height="144.79" fill="none" stroke="#1a1a1a" stroke-width="1.1"/><rect x="622.75" y="338.21" width="20.45" height="144.79" fill="#9EDB9E"/><g clip-path="url(#g5)" fill="#345634"><path d="M622.00,480.75h1.5v1.5h-1.5zM630.14,480.75h1.5v1.5h-1.5zM638.28,480.75h1.5v1.5h-1.5zM626.07,478.75h1.5v1.5h-1.5zM634.21,478.75h1.5v1.5h-1.5zM642.35,478.75h1.5v1.5h-1.5zM622.00,476.75h1.5v1.5h-1.5zM630.14,476.75h1.5v1.5h-1.5zM638.28,476.75h1.5v1.5h-1.5zM626.07,474.75h1.5v1.5h-1.5zM634.21,474.75h1.5v1.5h-1.5zM642.35,474.75h1.5v1.5h-1.5zM622.00,472.75h1.5v1.5h-1.5zM630.14,472.75h1.5v1.5h-1.5zM638.28,472.75h1.5v1.5h-1.5zM626.07,470.75h1.5v1.5h-1.5zM634.21,470.75h1.5v1.5h-1.5zM642.35,470.75h1.5v1.5h-1.5zM622.00,468.75h1.5v1.5h-1.5zM630.14,468.75h1.5v1.5h-1.5zM638.28,468.75h1.5v1.5h-1.5zM626.07,466.75h1.5v1.5h-1.5zM634.21,466.75h1.5v1.5h-1.5zM642.35,466.75h1.5v1.5h-1.5zM622.00,464.75h1.5v1.5h-1.5zM630.14,464.75h1.5v1.5h-1.5zM638.28,464.75h1.5v1.5h-1.5zM626.07,462.75h1.5v1.5h-1.5zM634.21,462.75h1.5v1.5h-1.5zM642.35,462.75h1.5v1.5h-1.5zM622.00,460.75h1.5v1.5h-1.5zM630.14,460.75h1.5v1.5h-1.5zM638.28,460.75h1.5v1.5h-1.5zM626.07,458.75h1.5v1.5h-1.5zM634.21,458.75h1.5v1.5h-1.5zM642.35,458.75h1.5v1.5h-1.5zM622.00,456.75h1.5v1.5h-1.5zM630.14,456.75h1.5v1.5h-1.5zM638.28,456.75h1.5v1.5h-1.5zM626.07,454.75h1.5v1.5h-1.5zM634.21,454.75h1.5v1.5h-1.5zM642.35,454.75h1.5v1.5h-1.5zM622.00,452.75h1.5v1.5h-1.5zM630.14,452.75h1.5v1.5h-1.5zM638.28,452.75h1.5v1.5h-1.5zM626.07,450.75h1.5v1.5h-1.5zM634.21,450.75h1.5v1.5h-1.5zM642.35,450.75h1.5v1.5h-1.5zM622.00,448.75h1.5v1.5h-1.5zM630.14,448.75h1.5v1.5h-1.5zM638.28,448.75h1.5v1.5h-1.5zM626.07,446.75h1.5v1.5h-1.5zM634.21,446.75h1.5v1.5h-1.5zM642.35,446.75h1.5v1.5h-1.5zM622.00,444.75h1.5v1.5h-1.5zM630.14,444.75h1.5v1.5h-1.5zM638.28,444.75h1.5v1.5h-1.5zM626.07,442.75h1.5v1.5h-1.5zM634.21,442.75h1.5v1.5h-1.5zM642.35,442.75h1.5v1.5h-1.5zM622.00,440.75h1.5v1.5h-1.5zM630.14,440.75h1.5v1.5h-1.5zM638.28,440.75h1.5v1.5h-1.5zM626.07,438.75h1.5v1.5h-1.5zM634.21,438.75h1.5v1.5h-1.5zM642.35,438.75h1.5v1.5h-1.5zM622.00,436.75h1.5v1.5h-1.5zM630.14,436.75h1.5v1.5h-1.5zM638.28,436.75h1.5v1.5h-1.5zM626.07,434.75h1.5v1.5h-1.5zM634.21,434.75h1.5v1.5h-1.5zM642.35,434.75h1.5v1.5h-1.5zM622.00,432.75h1.5v1.5h-1.5zM630.14,432.75h1.5v1.5h-1.5zM638.28,432.75h1.5v1.5h-1.5zM626.07,430.75h1.5v1.5h-1.5zM634.21,430.75h1.5v1.5h-1.5zM642.35,430.75h1.5v1.5h-1.5zM622.00,428.75h1.5v1.5h-1.5zM630.14,428.75h1.5v1.5h-1.5zM638.28,428.75h1.5v1.5h-1.5zM626.07,426.75h1.5v1.5h-1.5zM634.21,426.75h1.5v1.5h-1.5zM642.35,426.75h1.5v1.5h-1.5zM622.00,424.75h1.5v1.5h-1.5zM630.14,424.75h1.5v1.5h-1.5zM638.28,424.75h1.5v1.5h-1.5zM626.07,422.75h1.5v1.5h-1.5zM634.21,422.75h1.5v1.5h-1.5zM642.35,422.75h1.5v1.5h-1.5zM622.00,420.75h1.5v1.5h-1.5zM630.14,420.75h1.5v1.5h-1.5zM638.28,420.75h1.5v1.5h-1.5zM626.07,418.75h1.5v1.5h-1.5zM634.21,418.75h1.5v1.5h-1.5zM642.35,418.75h1.5v1.5h-1.5zM622.00,416.75h1.5v1.5h-1.5zM630.14,416.75h1.5v1.5h-1.5zM638.28,416.75h1.5v1.5h-1.5zM626.07,414.75h1.5v1.5h-1.5zM634.21,414.75h1.5v1.5h-1.5zM642.35,414.75h1.5v1.5h-1.5zM622.00,412.75h1.5v1.5h-1.5zM630.14,412.75h1.5v1.5h-1.5zM638.28,412.75h1.5v1.5h-1.5zM626.07,410.75h1.5v1.5h-1.5zM634.21,410.75h1.5v1.5h-1.5zM642.35,410.75h1.5v1.5h-1.5zM622.00,408.75h1.5v1.5h-1.5zM630.14,408.75h1.5v1.5h-1.5zM638.28,408.75h1.5v1.5h-1.5zM626.07,406.75h1.5v1.5h-1.5zM634.21,406.75h1.5v1.5h-1.5zM642.35,406.75h1.5v1.5h-1.5zM622.00,404.75h1.5v1.5h-1.5zM630.14,404.75h1.5v1.5h-1.5zM638.28,404.75h1.5v1.5h-1.5zM626.07,402.75h1.5v1.5h-1.5zM634.21,402.75h1.5v1.5h-1.5zM642.35,402.75h1.5v1.5h-1.5zM622.00,400.75h1.5v1.5h-1.5zM630.14,400.75h1.5v1.5h-1.5zM638.28,400.75h1.5v1.5h-1.5zM626.07,398.75h1.5v1.5h-1.5zM634.21,398.75h1.5v1.5h-1.5zM642.35,398.75h1.5v1.5h-1.5zM622.00,396.75h1.5v1.5h-1.5zM630.14,396.75h1.5v1.5h-1.5zM638.28,396.75h1.5v1.5h-1.5zM626.07,394.75h1.5v1.5h-1.5zM634.21,394.75h1.5v1.5h-1.5zM642.35,394.75h1.5v1.5h-1.5zM622.00,392.75h1.5v1.5h-1.5zM630.14,392.75h1.5v1.5h-1.5zM638.28,392.75h1.5v1.5h-1.5zM626.07,390.75h1.5v1.5h-1.5zM634.21,390.75h1.5v1.5h-1.5zM642.35,390.75h1.5v1.5h-1.5zM622.00,388.75h1.5v1.5h-1.5zM630.14,388.75h1.5v1.5h-1.5zM638.28,388.75h1.5v1.5h-1.5zM626.07,386.75h1.5v1.5h-1.5zM634.21,386.75h1.5v1.5h-1.5zM642.35,386.75h1.5v1.5h-1.5zM622.00,384.75h1.5v1.5h-1.5zM630.14,384.75h1.5v1.5h-1.5zM638.28,384.75h1.5v1.5h-1.5zM626.07,382.75h1.5v1.5h-1.5zM634.21,382.75h1.5v1.5h-1.5zM642.35,382.75h1.5v1.5h-1.5zM622.00,380.75h1.5v1.5h-1.5zM630.14,380.75h1.5v1.5h-1.5zM638.28,380.75h1.5v1.5h-1.5zM626.07,378.75h1.5v1.5h-1.5zM634.21,378.75h1.5v1.5h-1.5zM642.35,378.75h1.5v1.5h-1.5zM622.00,376.75h1.5v1.5h-1.5zM630.14,376.75h1.5v1.5h-1.5zM638.28,376.75h1.5v1.5h-1.5zM626.07,374.75h1.5v1.5h-1.5zM634.21,374.75h1.5v1.5h-1.5zM642.35,374.75h1.5v1.5h-1.5zM622.00,372.75h1.5v1.5h-1.5zM630.14,372.75h1.5v1.5h-1.5zM638.28,372.75h1.5v1.5h-1.5zM626.07,370.75h1.5v1.5h-1.5zM634.21,370.75h1.5v1.5h-1.5zM642.35,370.75h1.5v1.5h-1.5zM622.00,368.75h1.5v1.5h-1.5zM630.14,368.75h1.5v1.5h-1.5zM638.28,368.75h1.5v1.5h-1.5zM626.07,366.75h1.5v1.5h-1.5zM634.21,366.75h1.5v1.5h-1.5zM642.35,366.75h1.5v1.5h-1.5zM622.00,364.75h1.5v1.5h-1.5zM630.14,364.75h1.5v1.5h-1.5zM638.28,364.75h1.5v1.5h-1.5zM626.07,362.75h1.5v1.5h-1.5zM634.21,362.75h1.5v1.5h-1.5zM642.35,362.75h1.5v1.5h-1.5zM622.00,360.75h1.5v1.5h-1.5zM630.14,360.75h1.5v1.5h-1.5zM638.28,360.75h1.5v1.5h-1.5zM626.07,358.75h1.5v1.5h-1.5zM634.21,358.75h1.5v1.5h-1.5zM642.35,358.75h1.5v1.5h-1.5zM622.00,356.75h1.5v1.5h-1.5zM630.14,356.75h1.5v1.5h-1.5zM638.28,356.75h1.5v1.5h-1.5zM626.07,354.75h1.5v1.5h-1.5zM634.21,354.75h1.5v1.5h-1.5zM642.35,354.75h1.5v1.5h-1.5zM622.00,352.75h1.5v1.5h-1.5zM630.14,352.75h1.5v1.5h-1.5zM638.28,352.75h1.5v1.5h-1.5zM626.07,350.75h1.5v1.5h-1.5zM634.21,350.75h1.5v1.5h-1.5zM642.35,350.75h1.5v1.5h-1.5zM622.00,348.75h1.5v1.5h-1.5zM630.14,348.75h1.5v1.5h-1.5zM638.28,348.75h1.5v1.5h-1.5zM626.07,346.75h1.5v1.5h-1.5zM634.21,346.75h1.5v1.5h-1.5zM642.35,346.75h1.5v1.5h-1.5zM622.00,344.75h1.5v1.5h-1.5zM630.14,344.75h1.5v1.5h-1.5zM638.28,344.75h1.5v1.5h-1.5zM626.07,342.75h1.5v1.5h-1.5zM634.21,342.75h1.5v1.5h-1.5zM642.35,342.75h1.5v1.5h-1.5zM622.00,340.75h1.5v1.5h-1.5zM630.14,340.75h1.5v1.5h-1.5zM638.28,340.75h1.5v1.5h-1.5zM626.07,338.75h1.5v1.5h-1.5zM634.21,338.75h1.5v1.5h-1.5zM642.35,338.75h1.5v1.5h-1.5zM622.00,336.75h1.5v1.5h-1.5zM630.14,336.75h1.5v1.5h-1.5zM638.28,336.75h1.5v1.5h-1.5z"/></g><rect x="622.75" y="338.21" width="20.45" height="144.79" fill="none" stroke="#1a1a1a" stroke-width="1.1"/><rect x="643.20" y="382.59" width="20.20" height="100.41" fill="#C2B0D9"/><g clip-path="url(#p5)" stroke="#1a1a1a" stroke-width="1.05"><line x1="638.20" y1="520.12" x2="668.40" y2="492.34"/><line x1="638.20" y1="508.08" x2="668.40" y2="480.30"/><line x1="638.20" y1="496.04" x2="668.40" y2="468.26"/><line x1="638.20" y1="484.00" x2="668.40" y2="456.22"/><line x1="638.20" y1="471.96" x2="668.40" y2="444.18"/><line x1="638.20" y1="459.92" x2="668.40" y2="432.14"/><line x1="638.20" y1="447.88" x2="668.40" y2="420.10"/><line x1="638.20" y1="435.84" x2="668.40" y2="408.06"/><line x1="638.20" y1="423.80" x2="668.40" y2="396.02"/><line x1="638.20" y1="411.76" x2="668.40" y2="383.98"/><line x1="638.20" y1="399.72" x2="668.40" y2="371.94"/><line x1="638.20" y1="387.68" x2="668.40" y2="359.90"/></g><rect x="643.20" y="382.59" width="20.20" height="100.41" fill="none" stroke="#1a1a1a" stroke-width="1.1"/><g stroke="#1a1a1a" stroke-width="1.25" fill="none"><line x1="612.96" y1="335.24" x2="612.96" y2="341.17"/><line x1="608.96" y1="335.24" x2="616.96" y2="335.24"/><line x1="608.96" y1="341.17" x2="616.96" y2="341.17"/></g><g stroke="#1a1a1a" stroke-width="1.25" fill="none"><line x1="633.26" y1="335.24" x2="633.26" y2="341.17"/><line x1="629.26" y1="335.24" x2="637.26" y2="335.24"/><line x1="629.26" y1="341.17" x2="637.26" y2="341.17"/></g><g stroke="#1a1a1a" stroke-width="1.25" fill="none"><line x1="653.57" y1="380.74" x2="653.57" y2="384.45"/><line x1="649.57" y1="380.74" x2="657.57" y2="380.74"/><line x1="649.57" y1="384.45" x2="657.57" y2="384.45"/></g><rect x="69" y="0" width="616" height="2" fill="#000"/><rect x="69" y="482" width="616" height="2" fill="#000"/><rect x="69" y="0" width="2" height="484" fill="#000"/><rect x="683" y="0" width="2" height="484" fill="#000"/><rect x="71" y="445.30" width="4" height="2" fill="#000"/><rect x="71" y="408.20" width="8" height="2" fill="#000"/><rect x="71" y="371.10" width="4" height="2" fill="#000"/><rect x="71" y="334.00" width="8" height="2" fill="#000"/><rect x="71" y="296.90" width="4" height="2" fill="#000"/><rect x="71" y="259.80" width="8" height="2" fill="#000"/><rect x="71" y="222.70" width="4" height="2" fill="#000"/><rect x="71" y="185.60" width="8" height="2" fill="#000"/><rect x="71" y="148.50" width="4" height="2" fill="#000"/><rect x="71" y="111.40" width="8" height="2" fill="#000"/><rect x="71" y="74.30" width="4" height="2" fill="#000"/><rect x="71" y="37.20" width="8" height="2" fill="#000"/><rect x="120.20" y="474.7" width="1.6" height="8" fill="#000"/><rect x="171.80" y="479.3" width="1.6" height="4" fill="#000"/><rect x="222.10" y="474.7" width="1.6" height="8" fill="#000"/><rect x="273.70" y="479.3" width="1.6" height="4" fill="#000"/><rect x="325.20" y="474.7" width="1.6" height="8" fill="#000"/><rect x="376.80" y="479.3" width="1.6" height="4" fill="#000"/><rect x="427.20" y="474.7" width="1.6" height="8" fill="#000"/><rect x="478.80" y="479.3" width="1.6" height="4" fill="#000"/><rect x="529.20" y="474.7" width="1.6" height="8" fill="#000"/><rect x="580.80" y="479.3" width="1.6" height="4" fill="#000"/><rect x="632.50" y="474.7" width="1.6" height="8" fill="#000"/><rect x="503" y="21.1" width="172.9" height="86.4" fill="#000"/><rect x="496.55" y="15.6" width="172.5" height="86.1" fill="#fff" stroke="#333" stroke-width="1.25"/><defs><clipPath id="lo"><rect x="500.60" y="18.60" width="49.60" height="23.85"/></clipPath></defs><rect x="500.60" y="18.60" width="49.60" height="23.85" fill="#FCC893"/><g clip-path="url(#lo)" stroke="#1a1a1a" stroke-width="1"><line x1="506.50" y1="18.60" x2="506.50" y2="42.45"/><line x1="512.60" y1="18.60" x2="512.60" y2="42.45"/><line x1="517.70" y1="18.60" x2="517.70" y2="42.45"/><line x1="523.80" y1="18.60" x2="523.80" y2="42.45"/><line x1="530.00" y1="18.60" x2="530.00" y2="42.45"/><line x1="535.90" y1="18.60" x2="535.90" y2="42.45"/><line x1="541.20" y1="18.60" x2="541.20" y2="42.45"/><line x1="547.30" y1="18.60" x2="547.30" y2="42.45"/></g><rect x="500.60" y="18.60" width="49.60" height="23.85" fill="none" stroke="#1a1a1a" stroke-width="1.1"/><defs><clipPath id="lgn"><rect x="499.80" y="45.90" width="50.10" height="24.60"/></clipPath></defs><rect x="500.60" y="45.90" width="49.60" height="24.60" fill="#9EDB9E"/><g clip-path="url(#lgn)" fill="#345634"><path d="M499.65,66.75h1.5v1.5h-1.5zM507.79,66.75h1.5v1.5h-1.5zM515.93,66.75h1.5v1.5h-1.5zM524.07,66.75h1.5v1.5h-1.5zM532.21,66.75h1.5v1.5h-1.5zM540.35,66.75h1.5v1.5h-1.5zM548.49,66.75h1.5v1.5h-1.5zM503.72,64.75h1.5v1.5h-1.5zM511.86,64.75h1.5v1.5h-1.5zM520.00,64.75h1.5v1.5h-1.5zM528.14,64.75h1.5v1.5h-1.5zM536.28,64.75h1.5v1.5h-1.5zM544.42,64.75h1.5v1.5h-1.5zM499.65,62.75h1.5v1.5h-1.5zM507.79,62.75h1.5v1.5h-1.5zM515.93,62.75h1.5v1.5h-1.5zM524.07,62.75h1.5v1.5h-1.5zM532.21,62.75h1.5v1.5h-1.5zM540.35,62.75h1.5v1.5h-1.5zM548.49,62.75h1.5v1.5h-1.5zM503.72,60.75h1.5v1.5h-1.5zM511.86,60.75h1.5v1.5h-1.5zM520.00,60.75h1.5v1.5h-1.5zM528.14,60.75h1.5v1.5h-1.5zM536.28,60.75h1.5v1.5h-1.5zM544.42,60.75h1.5v1.5h-1.5zM499.65,58.75h1.5v1.5h-1.5zM507.79,58.75h1.5v1.5h-1.5zM515.93,58.75h1.5v1.5h-1.5zM524.07,58.75h1.5v1.5h-1.5zM532.21,58.75h1.5v1.5h-1.5zM540.35,58.75h1.5v1.5h-1.5zM548.49,58.75h1.5v1.5h-1.5zM503.72,56.75h1.5v1.5h-1.5zM511.86,56.75h1.5v1.5h-1.5zM520.00,56.75h1.5v1.5h-1.5zM528.14,56.75h1.5v1.5h-1.5zM536.28,56.75h1.5v1.5h-1.5zM544.42,56.75h1.5v1.5h-1.5zM499.65,54.75h1.5v1.5h-1.5zM507.79,54.75h1.5v1.5h-1.5zM515.93,54.75h1.5v1.5h-1.5zM524.07,54.75h1.5v1.5h-1.5zM532.21,54.75h1.5v1.5h-1.5zM540.35,54.75h1.5v1.5h-1.5zM548.49,54.75h1.5v1.5h-1.5zM503.72,52.75h1.5v1.5h-1.5zM511.86,52.75h1.5v1.5h-1.5zM520.00,52.75h1.5v1.5h-1.5zM528.14,52.75h1.5v1.5h-1.5zM536.28,52.75h1.5v1.5h-1.5zM544.42,52.75h1.5v1.5h-1.5zM499.65,50.75h1.5v1.5h-1.5zM507.79,50.75h1.5v1.5h-1.5zM515.93,50.75h1.5v1.5h-1.5zM524.07,50.75h1.5v1.5h-1.5zM532.21,50.75h1.5v1.5h-1.5zM540.35,50.75h1.5v1.5h-1.5zM548.49,50.75h1.5v1.5h-1.5zM503.72,48.75h1.5v1.5h-1.5zM511.86,48.75h1.5v1.5h-1.5zM520.00,48.75h1.5v1.5h-1.5zM528.14,48.75h1.5v1.5h-1.5zM536.28,48.75h1.5v1.5h-1.5zM544.42,48.75h1.5v1.5h-1.5zM499.65,46.75h1.5v1.5h-1.5zM507.79,46.75h1.5v1.5h-1.5zM515.93,46.75h1.5v1.5h-1.5zM524.07,46.75h1.5v1.5h-1.5zM532.21,46.75h1.5v1.5h-1.5zM540.35,46.75h1.5v1.5h-1.5zM548.49,46.75h1.5v1.5h-1.5zM503.72,44.75h1.5v1.5h-1.5zM511.86,44.75h1.5v1.5h-1.5zM520.00,44.75h1.5v1.5h-1.5zM528.14,44.75h1.5v1.5h-1.5zM536.28,44.75h1.5v1.5h-1.5zM544.42,44.75h1.5v1.5h-1.5z"/></g><rect x="500.60" y="45.90" width="49.60" height="24.60" fill="none" stroke="#1a1a1a" stroke-width="1.1"/><defs><clipPath id="lp"><rect x="500.6" y="74.3" width="49.6" height="24.150000000000006"/></clipPath></defs><rect x="500.6" y="74.3" width="49.6" height="24.150000000000006" fill="#C2B0D9"/><g clip-path="url(#lp)" stroke="#1a1a1a" stroke-width="1.05"><line x1="503.95" y1="69.30" x2="470.80" y2="103.45"/><line x1="516.45" y1="69.30" x2="483.30" y2="103.45"/><line x1="528.95" y1="69.30" x2="495.80" y2="103.45"/><line x1="541.45" y1="69.30" x2="508.30" y2="103.45"/><line x1="553.95" y1="69.30" x2="520.80" y2="103.45"/><line x1="566.45" y1="69.30" x2="533.30" y2="103.45"/><line x1="578.95" y1="69.30" x2="545.80" y2="103.45"/></g><rect x="500.6" y="74.3" width="49.6" height="24.150000000000006" fill="none" stroke="#1a1a1a" stroke-width="1.1"/><rect x="268" y="210" width="194.5" height="44" fill="#c9c9c9"/><rect x="271" y="213" width="188.5" height="38" fill="#FDE3CF"/></svg>
<div class="t xt" style="left:121.2px">Control</div>
<div class="t xt" style="left:223.6px">S1</div>
<div class="t xt" style="left:326.0px">S2</div>
<div class="t xt" style="left:428.4px">S3</div>
<div class="t xt" style="left:530.7px">S4</div>
<div class="t xt" style="left:633.1px">S5</div>
<div class="t yt" style="top:473.2px">0</div>
<div class="t yt" style="top:399.0px">1</div>
<div class="t yt" style="top:324.8px">2</div>
<div class="t yt" style="top:250.6px">3</div>
<div class="t yt" style="top:176.4px">4</div>
<div class="t yt" style="top:102.2px">5</div>
<div class="t yt" style="top:28.0px">6</div>
<div class="t b" style="font-size:22px;left:376.7px;top:526.6px;transform:translateX(-50%);letter-spacing:0.27px;word-spacing:1.2px">Treatment Concentration Samples</div>
<div class="t b" style="font-size:24px;left:0;top:0;transform-origin:0 0;transform:translate(-2.9px,300.6px) rotate(-90deg);">Log<span style="font-size:16.5px;position:relative;top:7.2px">10</span><span style="display:inline-block;width:8px"></span>(CFU)</div>
<div class="t lg" style="top:18.84px">TRGO</div>
<div class="t lg" style="top:46.60px">ZnO</div>
<div class="t lg" style="top:74.44px">TRGO/ZnO</div>
<div class="t" style="font-size:27.5px;font-weight:bold;font-style:italic;left:274px;top:218.5px;letter-spacing:0.7px">Ps. Aerugin<span style="margin-left:2.2px">os</span><span style="margin-left:0.8px">a</span></div>
</body></html>
